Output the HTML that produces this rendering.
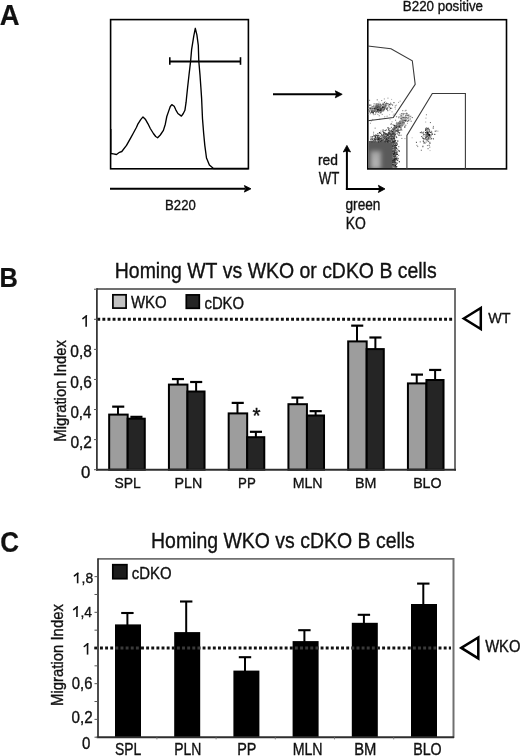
<!DOCTYPE html>
<html><head><meta charset="utf-8"><style>
html,body{margin:0;padding:0;background:#fff;}
body{width:520px;height:756px;overflow:hidden;}
svg{display:block;font-family:"Liberation Sans", sans-serif;font-kerning:none;}
.g{will-change:transform;}
</style></head><body>
<svg class="g" width="520" height="756" viewBox="0 0 520 756">
<rect width="520" height="756" fill="#fff"/>
<text transform="translate(-0.28,24.50) scale(1.000,1.055)" font-size="27.43" font-weight="bold" text-anchor="start" fill="#111" stroke="#111" stroke-width="0.19" >A</text>
<rect x="110.6" y="19.6" width="137.8" height="149.2" fill="none" stroke="#000" stroke-width="1.6"/>
<path d="M110.8,129 L110.8,153.5 L113.4,153.8 L116.5,154.5 L119.5,152.3 L121.8,151.5 L126.5,145.4 L131,137.3 L133.4,133 L136.5,127.3 L138,123.8 L140.7,119.6 L143,116.9 L145.3,119.2 L148,123.8 L150.3,128.5 L153.4,133.5 L155.7,136.5 L157.6,137.7 L160.3,135 L163.4,130.4 L165.3,124.2 L166.8,116.5 L168.4,111.9 L170.3,106.5 L171.8,104.6 L174.2,106.3 L175.8,109.8 L177.9,113.5 L181.4,116.1 L183.3,113.5 L184.9,110.3 L186.1,102.2 L186.6,97 L187.6,87.5 L189,75 L190.6,61.3 L191.6,49.6 L193.8,35.9 L195.3,28.3 L196.9,34.8 L198.3,45.4 L198.8,61.3 L200,75 L200.9,87.7 L201.6,98.3 L202.5,118.8 L203.7,133.8 L204.8,145.4 L206.5,158 L209.4,165 L213.5,168.5 L248,168.5" fill="none" stroke="#000" stroke-width="1.35" stroke-linejoin="round"/>
<line x1="169.80" y1="61.40" x2="240.50" y2="61.40" stroke="#000" stroke-width="2" />
<line x1="169.80" y1="57.20" x2="169.80" y2="64.80" stroke="#000" stroke-width="1.6" />
<line x1="240.50" y1="57.20" x2="240.50" y2="64.80" stroke="#000" stroke-width="1.6" />
<line x1="110.00" y1="188.80" x2="245.00" y2="188.80" stroke="#000" stroke-width="2" />
<path d="M251,188.8 L244.4,185.5 L245.6,188.8 L244.4,192.1 Z" fill="#000" stroke="#000" stroke-width="0.8" />
<text transform="translate(165.12,209.90) scale(1.000,1.150)" font-size="13.14" font-weight="normal" text-anchor="start" fill="#111" stroke="#111" stroke-width="0.30" >B220</text>
<line x1="273.00" y1="94.30" x2="337.00" y2="94.30" stroke="#000" stroke-width="2" />
<path d="M342.2,94.3 L335.3,90.8 L336.5,94.3 L335.3,97.8 Z" fill="#000" stroke="#000" stroke-width="0.8" />
<rect x="367.8" y="19.7" width="138.7" height="149.2" fill="none" stroke="#000" stroke-width="1.6"/>
<text transform="translate(402.80,11.20) scale(1.000,1.130)" font-size="13.37" font-weight="normal" text-anchor="start" fill="#111" stroke="#111" stroke-width="0.31" >B220 positive</text>
<defs>
<filter id="bl" x="-20%" y="-20%" width="140%" height="140%"><feGaussianBlur stdDeviation="0.35"/></filter>
<filter id="bl2" x="-50%" y="-50%" width="200%" height="200%"><feGaussianBlur stdDeviation="2.2"/></filter>
<clipPath id="cp"><rect x="368.6" y="20.5" width="137" height="147.6"/></clipPath>
</defs>
<g clip-path="url(#cp)">
<rect x="368.4" y="141" width="24.4" height="28" fill="#5a5a5a"/>
<g filter="url(#bl2)"><rect x="370.5" y="151" width="10.5" height="18" fill="#a4a4a4"/><rect x="371.5" y="157" width="8" height="11" fill="#b0b0b0"/></g>
<g filter="url(#bl)">
<rect x="378.3" y="110.4" width="1.1" height="1.1" fill="rgb(113,113,113)"/>
<rect x="375.2" y="107.8" width="1.1" height="1.1" fill="rgb(43,43,43)"/>
<rect x="380.1" y="107.3" width="1.1" height="1.1" fill="rgb(94,94,94)"/>
<rect x="369.9" y="112.6" width="1.1" height="1.1" fill="rgb(61,61,61)"/>
<rect x="380.6" y="107.0" width="1.1" height="1.1" fill="rgb(49,49,49)"/>
<rect x="380.0" y="109.0" width="1.1" height="1.1" fill="rgb(56,56,56)"/>
<rect x="377.2" y="109.3" width="1.1" height="1.1" fill="rgb(30,30,30)"/>
<rect x="370.9" y="110.1" width="1.1" height="1.1" fill="rgb(38,38,38)"/>
<rect x="368.6" y="108.2" width="1.1" height="1.1" fill="rgb(46,46,46)"/>
<rect x="371.6" y="106.3" width="1.1" height="1.1" fill="rgb(66,66,66)"/>
<rect x="381.5" y="106.6" width="1.1" height="1.1" fill="rgb(35,35,35)"/>
<rect x="379.6" y="108.9" width="1.1" height="1.1" fill="rgb(52,52,52)"/>
<rect x="380.5" y="109.3" width="1.1" height="1.1" fill="rgb(56,56,56)"/>
<rect x="374.1" y="109.3" width="1.1" height="1.1" fill="rgb(74,74,74)"/>
<rect x="382.0" y="104.5" width="1.1" height="1.1" fill="rgb(38,38,38)"/>
<rect x="373.1" y="105.5" width="1.1" height="1.1" fill="rgb(70,70,70)"/>
<rect x="379.7" y="106.0" width="1.1" height="1.1" fill="rgb(120,120,120)"/>
<rect x="381.5" y="108.3" width="1.1" height="1.1" fill="rgb(81,81,81)"/>
<rect x="381.4" y="104.5" width="1.1" height="1.1" fill="rgb(89,89,89)"/>
<rect x="379.6" y="104.0" width="1.1" height="1.1" fill="rgb(78,78,78)"/>
<rect x="376.8" y="109.6" width="1.1" height="1.1" fill="rgb(47,47,47)"/>
<rect x="377.7" y="108.6" width="1.1" height="1.1" fill="rgb(29,29,29)"/>
<rect x="380.3" y="107.1" width="1.1" height="1.1" fill="rgb(84,84,84)"/>
<rect x="375.7" y="110.4" width="1.1" height="1.1" fill="rgb(89,89,89)"/>
<rect x="377.0" y="109.2" width="1.1" height="1.1" fill="rgb(115,115,115)"/>
<rect x="385.0" y="103.3" width="1.1" height="1.1" fill="rgb(100,100,100)"/>
<rect x="379.7" y="107.3" width="1.1" height="1.1" fill="rgb(24,24,24)"/>
<rect x="382.8" y="104.4" width="1.1" height="1.1" fill="rgb(87,87,87)"/>
<rect x="382.8" y="103.7" width="1.1" height="1.1" fill="rgb(52,52,52)"/>
<rect x="371.8" y="109.6" width="1.1" height="1.1" fill="rgb(125,125,125)"/>
<rect x="386.0" y="102.7" width="1.1" height="1.1" fill="rgb(42,42,42)"/>
<rect x="381.4" y="110.2" width="1.1" height="1.1" fill="rgb(81,81,81)"/>
<rect x="374.4" y="109.2" width="1.1" height="1.1" fill="rgb(64,64,64)"/>
<rect x="376.4" y="106.7" width="1.1" height="1.1" fill="rgb(80,80,80)"/>
<rect x="378.9" y="107.4" width="1.1" height="1.1" fill="rgb(56,56,56)"/>
<rect x="371.6" y="108.2" width="1.1" height="1.1" fill="rgb(113,113,113)"/>
<rect x="376.2" y="105.4" width="1.1" height="1.1" fill="rgb(118,118,118)"/>
<rect x="380.8" y="111.3" width="1.1" height="1.1" fill="rgb(67,67,67)"/>
<rect x="375.0" y="105.7" width="1.1" height="1.1" fill="rgb(117,117,117)"/>
<rect x="388.8" y="103.9" width="1.1" height="1.1" fill="rgb(39,39,39)"/>
<rect x="380.0" y="105.8" width="1.1" height="1.1" fill="rgb(54,54,54)"/>
<rect x="376.1" y="108.6" width="1.1" height="1.1" fill="rgb(108,108,108)"/>
<rect x="378.1" y="109.6" width="1.1" height="1.1" fill="rgb(48,48,48)"/>
<rect x="378.2" y="103.6" width="1.1" height="1.1" fill="rgb(15,15,15)"/>
<rect x="380.9" y="106.0" width="1.1" height="1.1" fill="rgb(88,88,88)"/>
<rect x="380.6" y="109.8" width="1.1" height="1.1" fill="rgb(97,97,97)"/>
<rect x="382.1" y="106.7" width="1.1" height="1.1" fill="rgb(37,37,37)"/>
<rect x="374.1" y="107.7" width="1.1" height="1.1" fill="rgb(19,19,19)"/>
<rect x="375.1" y="108.3" width="1.1" height="1.1" fill="rgb(75,75,75)"/>
<rect x="375.3" y="104.6" width="1.1" height="1.1" fill="rgb(62,62,62)"/>
<rect x="379.0" y="109.7" width="1.1" height="1.1" fill="rgb(88,88,88)"/>
<rect x="374.4" y="107.2" width="1.1" height="1.1" fill="rgb(145,145,145)"/>
<rect x="381.7" y="110.6" width="1.1" height="1.1" fill="rgb(150,150,150)"/>
<rect x="374.1" y="109.4" width="1.1" height="1.1" fill="rgb(83,83,83)"/>
<rect x="380.3" y="108.4" width="1.1" height="1.1" fill="rgb(73,73,73)"/>
<rect x="377.8" y="104.9" width="1.1" height="1.1" fill="rgb(58,58,58)"/>
<rect x="374.3" y="108.8" width="1.1" height="1.1" fill="rgb(46,46,46)"/>
<rect x="380.7" y="108.8" width="1.1" height="1.1" fill="rgb(77,77,77)"/>
<rect x="379.1" y="107.8" width="1.1" height="1.1" fill="rgb(47,47,47)"/>
<rect x="376.7" y="107.1" width="1.1" height="1.1" fill="rgb(80,80,80)"/>
<rect x="377.9" y="109.0" width="1.1" height="1.1" fill="rgb(15,15,15)"/>
<rect x="381.3" y="105.6" width="1.1" height="1.1" fill="rgb(35,35,35)"/>
<rect x="376.5" y="107.0" width="1.1" height="1.1" fill="rgb(76,76,76)"/>
<rect x="374.6" y="106.5" width="1.1" height="1.1" fill="rgb(31,31,31)"/>
<rect x="383.5" y="106.7" width="1.1" height="1.1" fill="rgb(18,18,18)"/>
<rect x="377.0" y="105.0" width="1.1" height="1.1" fill="rgb(136,136,136)"/>
<rect x="370.9" y="110.2" width="1.1" height="1.1" fill="rgb(86,86,86)"/>
<rect x="371.2" y="109.8" width="1.1" height="1.1" fill="rgb(104,104,104)"/>
<rect x="379.8" y="107.9" width="1.1" height="1.1" fill="rgb(102,102,102)"/>
<rect x="378.5" y="108.4" width="1.1" height="1.1" fill="rgb(59,59,59)"/>
<rect x="380.1" y="105.5" width="1.1" height="1.1" fill="rgb(96,96,96)"/>
<rect x="374.9" y="106.4" width="1.1" height="1.1" fill="rgb(79,79,79)"/>
<rect x="385.6" y="108.1" width="1.1" height="1.1" fill="rgb(44,44,44)"/>
<rect x="380.6" y="106.4" width="1.1" height="1.1" fill="rgb(60,60,60)"/>
<rect x="377.1" y="103.5" width="1.1" height="1.1" fill="rgb(72,72,72)"/>
<rect x="372.7" y="107.6" width="1.1" height="1.1" fill="rgb(15,15,15)"/>
<rect x="370.4" y="107.6" width="1.1" height="1.1" fill="rgb(98,98,98)"/>
<rect x="385.1" y="106.3" width="1.1" height="1.1" fill="rgb(108,108,108)"/>
<rect x="375.7" y="104.6" width="1.1" height="1.1" fill="rgb(70,70,70)"/>
<rect x="379.4" y="106.7" width="1.1" height="1.1" fill="rgb(77,77,77)"/>
<rect x="379.8" y="105.7" width="1.1" height="1.1" fill="rgb(15,15,15)"/>
<rect x="376.5" y="107.7" width="1.1" height="1.1" fill="rgb(50,50,50)"/>
<rect x="382.7" y="110.2" width="1.1" height="1.1" fill="rgb(48,48,48)"/>
<rect x="381.1" y="109.0" width="1.1" height="1.1" fill="rgb(93,93,93)"/>
<rect x="382.2" y="106.2" width="1.1" height="1.1" fill="rgb(94,94,94)"/>
<rect x="387.0" y="107.5" width="1.1" height="1.1" fill="rgb(40,40,40)"/>
<rect x="380.8" y="109.7" width="1.1" height="1.1" fill="rgb(79,79,79)"/>
<rect x="375.7" y="111.3" width="1.1" height="1.1" fill="rgb(15,15,15)"/>
<rect x="379.9" y="107.4" width="1.1" height="1.1" fill="rgb(17,17,17)"/>
<rect x="383.2" y="107.4" width="1.1" height="1.1" fill="rgb(18,18,18)"/>
<rect x="380.1" y="106.5" width="1.1" height="1.1" fill="rgb(15,15,15)"/>
<rect x="374.6" y="109.0" width="1.1" height="1.1" fill="rgb(90,90,90)"/>
<rect x="378.4" y="107.8" width="1.1" height="1.1" fill="rgb(83,83,83)"/>
<rect x="377.1" y="110.3" width="1.1" height="1.1" fill="rgb(70,70,70)"/>
<rect x="379.1" y="108.6" width="1.1" height="1.1" fill="rgb(22,22,22)"/>
<rect x="375.0" y="111.4" width="1.1" height="1.1" fill="rgb(78,78,78)"/>
<rect x="376.5" y="108.8" width="1.1" height="1.1" fill="rgb(45,45,45)"/>
<rect x="378.6" y="106.4" width="1.1" height="1.1" fill="rgb(76,76,76)"/>
<rect x="371.0" y="111.9" width="1.1" height="1.1" fill="rgb(44,44,44)"/>
<rect x="370.4" y="109.0" width="1.1" height="1.1" fill="rgb(50,50,50)"/>
<rect x="377.8" y="105.6" width="1.1" height="1.1" fill="rgb(80,80,80)"/>
<rect x="393.4" y="102.1" width="1.1" height="1.1" fill="rgb(78,78,78)"/>
<rect x="376.3" y="108.6" width="1.1" height="1.1" fill="rgb(15,15,15)"/>
<rect x="372.6" y="109.9" width="1.1" height="1.1" fill="rgb(63,63,63)"/>
<rect x="384.7" y="105.0" width="1.1" height="1.1" fill="rgb(71,71,71)"/>
<rect x="390.4" y="103.7" width="1.1" height="1.1" fill="rgb(28,28,28)"/>
<rect x="377.4" y="107.9" width="1.1" height="1.1" fill="rgb(98,98,98)"/>
<rect x="377.9" y="106.4" width="1.1" height="1.1" fill="rgb(73,73,73)"/>
<rect x="390.0" y="107.7" width="1.1" height="1.1" fill="rgb(15,15,15)"/>
<rect x="376.6" y="106.4" width="1.1" height="1.1" fill="rgb(89,89,89)"/>
<rect x="377.6" y="111.7" width="1.1" height="1.1" fill="rgb(102,102,102)"/>
<rect x="381.7" y="107.4" width="1.1" height="1.1" fill="rgb(63,63,63)"/>
<rect x="379.6" y="110.0" width="1.1" height="1.1" fill="rgb(86,86,86)"/>
<rect x="376.5" y="110.6" width="1.1" height="1.1" fill="rgb(72,72,72)"/>
<rect x="376.9" y="106.5" width="1.1" height="1.1" fill="rgb(42,42,42)"/>
<rect x="373.6" y="103.3" width="1.1" height="1.1" fill="rgb(105,105,105)"/>
<rect x="380.1" y="107.0" width="1.1" height="1.1" fill="rgb(106,106,106)"/>
<rect x="379.7" y="108.2" width="1.1" height="1.1" fill="rgb(15,15,15)"/>
<rect x="376.8" y="109.1" width="1.1" height="1.1" fill="rgb(129,129,129)"/>
<rect x="386.4" y="108.8" width="1.1" height="1.1" fill="rgb(18,18,18)"/>
<rect x="367.9" y="111.1" width="1.1" height="1.1" fill="rgb(66,66,66)"/>
<rect x="381.9" y="106.7" width="1.1" height="1.1" fill="rgb(73,73,73)"/>
<rect x="371.0" y="110.2" width="1.1" height="1.1" fill="rgb(47,47,47)"/>
<rect x="379.4" y="108.4" width="1.1" height="1.1" fill="rgb(60,60,60)"/>
<rect x="379.0" y="107.6" width="1.1" height="1.1" fill="rgb(95,95,95)"/>
<rect x="379.6" y="106.4" width="1.1" height="1.1" fill="rgb(41,41,41)"/>
<rect x="385.4" y="106.0" width="1.1" height="1.1" fill="rgb(104,104,104)"/>
<rect x="379.1" y="106.5" width="1.1" height="1.1" fill="rgb(35,35,35)"/>
<rect x="378.2" y="108.3" width="1.1" height="1.1" fill="rgb(89,89,89)"/>
<rect x="371.7" y="108.0" width="1.1" height="1.1" fill="rgb(61,61,61)"/>
<rect x="383.9" y="102.0" width="1.1" height="1.1" fill="rgb(82,82,82)"/>
<rect x="375.3" y="109.2" width="1.1" height="1.1" fill="rgb(45,45,45)"/>
<rect x="379.9" y="110.5" width="1.1" height="1.1" fill="rgb(79,79,79)"/>
<rect x="379.7" y="108.2" width="1.1" height="1.1" fill="rgb(34,34,34)"/>
<rect x="380.0" y="107.0" width="1.1" height="1.1" fill="rgb(32,32,32)"/>
<rect x="377.3" y="107.5" width="1.1" height="1.1" fill="rgb(95,95,95)"/>
<rect x="377.2" y="107.0" width="1.1" height="1.1" fill="rgb(123,123,123)"/>
<rect x="382.5" y="109.3" width="1.1" height="1.1" fill="rgb(89,89,89)"/>
<rect x="376.9" y="107.2" width="1.1" height="1.1" fill="rgb(53,53,53)"/>
<rect x="381.9" y="107.2" width="1.1" height="1.1" fill="rgb(15,15,15)"/>
<rect x="376.9" y="105.3" width="1.1" height="1.1" fill="rgb(71,71,71)"/>
<rect x="371.7" y="106.7" width="1.1" height="1.1" fill="rgb(69,69,69)"/>
<rect x="376.6" y="104.9" width="1.1" height="1.1" fill="rgb(94,94,94)"/>
<rect x="386.7" y="103.1" width="1.1" height="1.1" fill="rgb(137,137,137)"/>
<rect x="374.3" y="107.6" width="1.1" height="1.1" fill="rgb(57,57,57)"/>
<rect x="371.6" y="111.7" width="1.1" height="1.1" fill="rgb(84,84,84)"/>
<rect x="374.1" y="108.1" width="1.1" height="1.1" fill="rgb(15,15,15)"/>
<rect x="376.4" y="110.0" width="1.1" height="1.1" fill="rgb(15,15,15)"/>
<rect x="375.7" y="108.6" width="1.1" height="1.1" fill="rgb(106,106,106)"/>
<rect x="383.5" y="105.8" width="1.1" height="1.1" fill="rgb(35,35,35)"/>
<rect x="379.5" y="106.8" width="1.1" height="1.1" fill="rgb(52,52,52)"/>
<rect x="383.1" y="110.0" width="1.1" height="1.1" fill="rgb(75,75,75)"/>
<rect x="377.0" y="109.1" width="1.1" height="1.1" fill="rgb(15,15,15)"/>
<rect x="377.1" y="105.9" width="1.1" height="1.1" fill="rgb(160,160,160)"/>
<rect x="380.9" y="107.5" width="1.1" height="1.1" fill="rgb(57,57,57)"/>
<rect x="366.6" y="111.6" width="1.1" height="1.1" fill="rgb(130,130,130)"/>
<rect x="374.6" y="109.9" width="1.1" height="1.1" fill="rgb(93,93,93)"/>
<rect x="371.0" y="111.1" width="1.1" height="1.1" fill="rgb(119,119,119)"/>
<rect x="378.6" y="107.6" width="1.1" height="1.1" fill="rgb(96,96,96)"/>
<rect x="370.7" y="109.5" width="1.1" height="1.1" fill="rgb(107,107,107)"/>
<rect x="372.4" y="110.9" width="1.1" height="1.1" fill="rgb(48,48,48)"/>
<rect x="368.2" y="109.7" width="1.1" height="1.1" fill="rgb(26,26,26)"/>
<rect x="378.6" y="105.4" width="1.1" height="1.1" fill="rgb(107,107,107)"/>
<rect x="374.4" y="109.3" width="1.1" height="1.1" fill="rgb(41,41,41)"/>
<rect x="376.6" y="110.4" width="1.1" height="1.1" fill="rgb(73,73,73)"/>
<rect x="375.3" y="106.0" width="1.1" height="1.1" fill="rgb(111,111,111)"/>
<rect x="380.8" y="106.6" width="1.1" height="1.1" fill="rgb(74,74,74)"/>
<rect x="372.6" y="107.0" width="1.1" height="1.1" fill="rgb(31,31,31)"/>
<rect x="379.3" y="108.1" width="1.1" height="1.1" fill="rgb(35,35,35)"/>
<rect x="381.2" y="108.7" width="1.1" height="1.1" fill="rgb(71,71,71)"/>
<rect x="382.2" y="106.4" width="1.1" height="1.1" fill="rgb(60,60,60)"/>
<rect x="379.7" y="107.4" width="1.1" height="1.1" fill="rgb(96,96,96)"/>
<rect x="372.5" y="111.7" width="1.1" height="1.1" fill="rgb(33,33,33)"/>
<rect x="376.3" y="105.5" width="1.1" height="1.1" fill="rgb(89,89,89)"/>
<rect x="383.8" y="108.7" width="1.1" height="1.1" fill="rgb(98,98,98)"/>
<rect x="370.3" y="107.9" width="1.1" height="1.1" fill="rgb(46,46,46)"/>
<rect x="373.8" y="110.9" width="1.1" height="1.1" fill="rgb(72,72,72)"/>
<rect x="377.7" y="108.8" width="1.1" height="1.1" fill="rgb(26,26,26)"/>
<rect x="373.2" y="107.1" width="1.1" height="1.1" fill="rgb(84,84,84)"/>
<rect x="379.4" y="108.6" width="1.1" height="1.1" fill="rgb(108,108,108)"/>
<rect x="371.3" y="108.2" width="1.1" height="1.1" fill="rgb(70,70,70)"/>
<rect x="371.3" y="108.2" width="1.1" height="1.1" fill="rgb(105,105,105)"/>
<rect x="383.0" y="108.8" width="1.1" height="1.1" fill="rgb(66,66,66)"/>
<rect x="377.1" y="110.1" width="1.1" height="1.1" fill="rgb(50,50,50)"/>
<rect x="379.6" y="110.0" width="1.1" height="1.1" fill="rgb(50,50,50)"/>
<rect x="374.8" y="108.5" width="1.1" height="1.1" fill="rgb(88,88,88)"/>
<rect x="379.8" y="107.7" width="1.1" height="1.1" fill="rgb(87,87,87)"/>
<rect x="370.1" y="107.8" width="1.1" height="1.1" fill="rgb(71,71,71)"/>
<rect x="372.9" y="106.3" width="1.1" height="1.1" fill="rgb(16,16,16)"/>
<rect x="373.4" y="108.4" width="1.1" height="1.1" fill="rgb(24,24,24)"/>
<rect x="379.3" y="110.8" width="1.1" height="1.1" fill="rgb(59,59,59)"/>
<rect x="383.4" y="107.2" width="1.1" height="1.1" fill="rgb(20,20,20)"/>
<rect x="376.1" y="106.3" width="1.1" height="1.1" fill="rgb(95,95,95)"/>
<rect x="372.9" y="111.5" width="1.1" height="1.1" fill="rgb(88,88,88)"/>
<rect x="368.8" y="111.3" width="1.1" height="1.1" fill="rgb(127,127,127)"/>
<rect x="374.4" y="110.5" width="1.1" height="1.1" fill="rgb(15,15,15)"/>
<rect x="378.1" y="104.6" width="1.1" height="1.1" fill="rgb(84,84,84)"/>
<rect x="368.5" y="104.7" width="1.1" height="1.1" fill="rgb(80,80,80)"/>
<rect x="387.7" y="104.6" width="1.1" height="1.1" fill="rgb(98,98,98)"/>
<rect x="378.0" y="107.2" width="1.1" height="1.1" fill="rgb(89,89,89)"/>
<rect x="384.5" y="104.0" width="1.1" height="1.1" fill="rgb(87,87,87)"/>
<rect x="378.6" y="104.9" width="1.1" height="1.1" fill="rgb(129,129,129)"/>
<rect x="386.0" y="104.3" width="1.1" height="1.1" fill="rgb(134,134,134)"/>
<rect x="377.8" y="107.5" width="1.1" height="1.1" fill="rgb(125,125,125)"/>
<rect x="378.8" y="108.3" width="1.1" height="1.1" fill="rgb(125,125,125)"/>
<rect x="383.7" y="108.3" width="1.1" height="1.1" fill="rgb(15,15,15)"/>
<rect x="371.0" y="111.5" width="1.1" height="1.1" fill="rgb(27,27,27)"/>
<rect x="377.8" y="105.8" width="1.1" height="1.1" fill="rgb(57,57,57)"/>
<rect x="372.5" y="112.2" width="1.1" height="1.1" fill="rgb(24,24,24)"/>
<rect x="377.0" y="107.7" width="1.1" height="1.1" fill="rgb(113,113,113)"/>
<rect x="371.2" y="109.2" width="1.1" height="1.1" fill="rgb(56,56,56)"/>
<rect x="380.2" y="108.3" width="1.1" height="1.1" fill="rgb(46,46,46)"/>
<rect x="378.5" y="107.0" width="1.1" height="1.1" fill="rgb(83,83,83)"/>
<rect x="376.9" y="106.8" width="1.1" height="1.1" fill="rgb(63,63,63)"/>
<rect x="380.1" y="111.8" width="1.1" height="1.1" fill="rgb(45,45,45)"/>
<rect x="379.6" y="110.3" width="1.1" height="1.1" fill="rgb(15,15,15)"/>
<rect x="369.3" y="107.4" width="1.1" height="1.1" fill="rgb(60,60,60)"/>
<rect x="388.7" y="106.3" width="1.1" height="1.1" fill="rgb(113,113,113)"/>
<rect x="375.6" y="103.5" width="1.1" height="1.1" fill="rgb(15,15,15)"/>
<rect x="382.3" y="107.3" width="1.1" height="1.1" fill="rgb(15,15,15)"/>
<rect x="384.6" y="101.1" width="1.1" height="1.1" fill="rgb(180,180,180)"/>
<rect x="387.4" y="103.0" width="1.1" height="1.1" fill="rgb(90,90,90)"/>
<rect x="383.1" y="102.8" width="1.1" height="1.1" fill="rgb(169,169,169)"/>
<rect x="370.4" y="111.8" width="1.1" height="1.1" fill="rgb(138,138,138)"/>
<rect x="374.4" y="105.3" width="1.1" height="1.1" fill="rgb(144,144,144)"/>
<rect x="364.9" y="109.4" width="1.1" height="1.1" fill="rgb(119,119,119)"/>
<rect x="381.8" y="102.6" width="1.1" height="1.1" fill="rgb(203,203,203)"/>
<rect x="375.1" y="104.4" width="1.1" height="1.1" fill="rgb(190,190,190)"/>
<rect x="389.3" y="104.5" width="1.1" height="1.1" fill="rgb(99,99,99)"/>
<rect x="377.7" y="105.3" width="1.1" height="1.1" fill="rgb(122,122,122)"/>
<rect x="388.9" y="106.5" width="1.1" height="1.1" fill="rgb(140,140,140)"/>
<rect x="380.3" y="106.8" width="1.1" height="1.1" fill="rgb(168,168,168)"/>
<rect x="383.8" y="105.1" width="1.1" height="1.1" fill="rgb(139,139,139)"/>
<rect x="394.8" y="105.3" width="1.1" height="1.1" fill="rgb(127,127,127)"/>
<rect x="392.0" y="104.5" width="1.1" height="1.1" fill="rgb(91,91,91)"/>
<rect x="382.0" y="103.7" width="1.1" height="1.1" fill="rgb(115,115,115)"/>
<rect x="380.2" y="106.6" width="1.1" height="1.1" fill="rgb(104,104,104)"/>
<rect x="373.8" y="106.4" width="1.1" height="1.1" fill="rgb(181,181,181)"/>
<rect x="372.7" y="106.8" width="1.1" height="1.1" fill="rgb(210,210,210)"/>
<rect x="375.2" y="113.0" width="1.1" height="1.1" fill="rgb(187,187,187)"/>
<rect x="376.0" y="103.3" width="1.1" height="1.1" fill="rgb(153,153,153)"/>
<rect x="383.2" y="109.6" width="1.1" height="1.1" fill="rgb(137,137,137)"/>
<rect x="387.2" y="110.1" width="1.1" height="1.1" fill="rgb(92,92,92)"/>
<rect x="387.9" y="106.0" width="1.1" height="1.1" fill="rgb(112,112,112)"/>
<rect x="377.1" y="113.8" width="1.1" height="1.1" fill="rgb(174,174,174)"/>
<rect x="365.8" y="110.4" width="1.1" height="1.1" fill="rgb(129,129,129)"/>
<rect x="376.5" y="106.1" width="1.1" height="1.1" fill="rgb(76,76,76)"/>
<rect x="383.3" y="103.3" width="1.1" height="1.1" fill="rgb(120,120,120)"/>
<rect x="373.4" y="106.1" width="1.1" height="1.1" fill="rgb(164,164,164)"/>
<rect x="380.2" y="104.8" width="1.1" height="1.1" fill="rgb(97,97,97)"/>
<rect x="375.4" y="111.2" width="1.1" height="1.1" fill="rgb(140,140,140)"/>
<rect x="379.4" y="106.1" width="1.1" height="1.1" fill="rgb(124,124,124)"/>
<rect x="378.3" y="101.4" width="1.1" height="1.1" fill="rgb(199,199,199)"/>
<rect x="372.2" y="106.9" width="1.1" height="1.1" fill="rgb(188,188,188)"/>
<rect x="379.6" y="107.3" width="1.1" height="1.1" fill="rgb(111,111,111)"/>
<rect x="367.4" y="110.4" width="1.1" height="1.1" fill="rgb(182,182,182)"/>
<rect x="372.7" y="113.1" width="1.1" height="1.1" fill="rgb(89,89,89)"/>
<rect x="373.3" y="110.2" width="1.1" height="1.1" fill="rgb(135,135,135)"/>
<rect x="382.2" y="104.2" width="1.1" height="1.1" fill="rgb(93,93,93)"/>
<rect x="364.4" y="106.4" width="1.1" height="1.1" fill="rgb(91,91,91)"/>
<rect x="368.4" y="110.5" width="1.1" height="1.1" fill="rgb(108,108,108)"/>
<rect x="366.0" y="118.2" width="1.1" height="1.1" fill="rgb(101,101,101)"/>
<rect x="370.2" y="113.2" width="1.1" height="1.1" fill="rgb(181,181,181)"/>
<rect x="369.1" y="104.6" width="1.1" height="1.1" fill="rgb(94,94,94)"/>
<rect x="385.5" y="104.9" width="1.1" height="1.1" fill="rgb(102,102,102)"/>
<rect x="378.6" y="111.3" width="1.1" height="1.1" fill="rgb(79,79,79)"/>
<rect x="374.5" y="103.7" width="1.1" height="1.1" fill="rgb(210,210,210)"/>
<rect x="391.1" y="107.8" width="1.1" height="1.1" fill="rgb(129,129,129)"/>
<rect x="381.1" y="100.0" width="1.1" height="1.1" fill="rgb(146,146,146)"/>
<rect x="368.0" y="105.3" width="1.1" height="1.1" fill="rgb(106,106,106)"/>
<rect x="376.0" y="109.8" width="1.1" height="1.1" fill="rgb(163,163,163)"/>
<rect x="379.2" y="104.2" width="1.1" height="1.1" fill="rgb(162,162,162)"/>
<rect x="378.0" y="111.4" width="1.1" height="1.1" fill="rgb(98,98,98)"/>
<rect x="358.8" y="110.0" width="1.1" height="1.1" fill="rgb(210,210,210)"/>
<rect x="381.1" y="106.2" width="1.1" height="1.1" fill="rgb(170,170,170)"/>
<rect x="381.8" y="108.2" width="1.1" height="1.1" fill="rgb(114,114,114)"/>
<rect x="378.7" y="108.0" width="1.1" height="1.1" fill="rgb(109,109,109)"/>
<rect x="370.4" y="109.6" width="1.1" height="1.1" fill="rgb(173,173,173)"/>
<rect x="382.8" y="108.1" width="1.1" height="1.1" fill="rgb(155,155,155)"/>
<rect x="395.9" y="104.6" width="1.1" height="1.1" fill="rgb(176,176,176)"/>
<rect x="398.0" y="101.9" width="1.1" height="1.1" fill="rgb(169,169,169)"/>
<rect x="391.5" y="111.3" width="1.1" height="1.1" fill="rgb(170,170,170)"/>
<rect x="383.4" y="106.0" width="1.1" height="1.1" fill="rgb(117,117,117)"/>
<rect x="390.0" y="102.7" width="1.1" height="1.1" fill="rgb(99,99,99)"/>
<rect x="376.7" y="99.3" width="1.1" height="1.1" fill="rgb(124,124,124)"/>
<rect x="379.1" y="102.5" width="1.1" height="1.1" fill="rgb(197,197,197)"/>
<rect x="366.9" y="111.3" width="1.1" height="1.1" fill="rgb(179,179,179)"/>
<rect x="394.5" y="106.9" width="1.1" height="1.1" fill="rgb(168,168,168)"/>
<rect x="380.8" y="106.1" width="1.1" height="1.1" fill="rgb(200,200,200)"/>
<rect x="374.7" y="110.4" width="1.1" height="1.1" fill="rgb(157,157,157)"/>
<rect x="382.0" y="104.8" width="1.1" height="1.1" fill="rgb(210,210,210)"/>
<rect x="374.4" y="109.2" width="1.1" height="1.1" fill="rgb(170,170,170)"/>
<rect x="386.2" y="107.0" width="1.1" height="1.1" fill="rgb(175,175,175)"/>
<rect x="387.4" y="97.6" width="1.1" height="1.1" fill="rgb(160,160,160)"/>
<rect x="369.1" y="110.6" width="1.1" height="1.1" fill="rgb(119,119,119)"/>
<rect x="371.2" y="108.6" width="1.1" height="1.1" fill="rgb(209,209,209)"/>
<rect x="385.8" y="106.4" width="1.1" height="1.1" fill="rgb(209,209,209)"/>
<rect x="369.0" y="99.8" width="1.1" height="1.1" fill="rgb(145,145,145)"/>
<rect x="379.0" y="112.6" width="1.1" height="1.1" fill="rgb(210,210,210)"/>
<rect x="370.8" y="120.6" width="1.1" height="1.1" fill="rgb(210,210,210)"/>
<rect x="388.3" y="106.1" width="1.1" height="1.1" fill="rgb(210,210,210)"/>
<rect x="380.3" y="104.3" width="1.1" height="1.1" fill="rgb(165,165,165)"/>
<rect x="368.1" y="111.9" width="1.1" height="1.1" fill="rgb(156,156,156)"/>
<rect x="383.6" y="107.3" width="1.1" height="1.1" fill="rgb(123,123,123)"/>
<rect x="391.0" y="98.9" width="1.1" height="1.1" fill="rgb(191,191,191)"/>
<rect x="366.0" y="112.1" width="1.1" height="1.1" fill="rgb(131,131,131)"/>
<rect x="379.8" y="103.6" width="1.1" height="1.1" fill="rgb(84,84,84)"/>
<rect x="370.0" y="109.6" width="1.1" height="1.1" fill="rgb(182,182,182)"/>
<rect x="364.2" y="100.9" width="1.1" height="1.1" fill="rgb(130,130,130)"/>
<rect x="377.5" y="104.3" width="1.1" height="1.1" fill="rgb(132,132,132)"/>
<rect x="389.1" y="108.6" width="1.1" height="1.1" fill="rgb(186,186,186)"/>
<rect x="371.6" y="109.2" width="1.1" height="1.1" fill="rgb(153,153,153)"/>
<rect x="368.1" y="113.9" width="1.1" height="1.1" fill="rgb(163,163,163)"/>
<rect x="377.4" y="113.9" width="1.1" height="1.1" fill="rgb(187,187,187)"/>
<rect x="389.4" y="109.6" width="1.1" height="1.1" fill="rgb(185,185,185)"/>
<rect x="368.1" y="107.9" width="1.1" height="1.1" fill="rgb(195,195,195)"/>
<rect x="373.1" y="108.6" width="1.1" height="1.1" fill="rgb(174,174,174)"/>
<rect x="394.9" y="108.6" width="1.1" height="1.1" fill="rgb(191,191,191)"/>
<rect x="379.5" y="111.0" width="1.1" height="1.1" fill="rgb(178,178,178)"/>
<rect x="380.2" y="112.8" width="1.1" height="1.1" fill="rgb(177,177,177)"/>
<rect x="374.7" y="113.9" width="1.1" height="1.1" fill="rgb(151,151,151)"/>
<rect x="383.8" y="98.4" width="1.1" height="1.1" fill="rgb(159,159,159)"/>
<rect x="370.3" y="104.6" width="1.1" height="1.1" fill="rgb(93,93,93)"/>
<rect x="399.6" y="100.6" width="1.1" height="1.1" fill="rgb(168,168,168)"/>
<rect x="390.1" y="103.3" width="1.1" height="1.1" fill="rgb(178,178,178)"/>
<rect x="367.9" y="110.7" width="1.1" height="1.1" fill="rgb(145,145,145)"/>
<rect x="384.9" y="106.1" width="1.1" height="1.1" fill="rgb(111,111,111)"/>
<rect x="361.9" y="106.7" width="1.1" height="1.1" fill="rgb(186,186,186)"/>
<rect x="384.5" y="107.2" width="1.1" height="1.1" fill="rgb(89,89,89)"/>
<rect x="354.7" y="110.4" width="1.1" height="1.1" fill="rgb(148,148,148)"/>
<rect x="425.3" y="136.0" width="1.1" height="1.1" fill="rgb(68,68,68)"/>
<rect x="425.0" y="129.7" width="1.1" height="1.1" fill="rgb(80,80,80)"/>
<rect x="427.2" y="134.2" width="1.1" height="1.1" fill="rgb(165,165,165)"/>
<rect x="426.3" y="135.0" width="1.1" height="1.1" fill="rgb(35,35,35)"/>
<rect x="425.7" y="136.9" width="1.1" height="1.1" fill="rgb(97,97,97)"/>
<rect x="426.3" y="136.4" width="1.1" height="1.1" fill="rgb(77,77,77)"/>
<rect x="425.4" y="117.6" width="1.1" height="1.1" fill="rgb(167,167,167)"/>
<rect x="429.0" y="134.6" width="1.1" height="1.1" fill="rgb(15,15,15)"/>
<rect x="422.8" y="140.6" width="1.1" height="1.1" fill="rgb(15,15,15)"/>
<rect x="425.5" y="138.6" width="1.1" height="1.1" fill="rgb(80,80,80)"/>
<rect x="428.9" y="134.2" width="1.1" height="1.1" fill="rgb(170,170,170)"/>
<rect x="425.8" y="127.4" width="1.1" height="1.1" fill="rgb(85,85,85)"/>
<rect x="430.4" y="134.8" width="1.1" height="1.1" fill="rgb(116,116,116)"/>
<rect x="426.8" y="128.4" width="1.1" height="1.1" fill="rgb(130,130,130)"/>
<rect x="429.4" y="142.7" width="1.1" height="1.1" fill="rgb(57,57,57)"/>
<rect x="425.3" y="128.3" width="1.1" height="1.1" fill="rgb(66,66,66)"/>
<rect x="427.9" y="137.2" width="1.1" height="1.1" fill="rgb(17,17,17)"/>
<rect x="427.4" y="134.7" width="1.1" height="1.1" fill="rgb(78,78,78)"/>
<rect x="427.1" y="133.5" width="1.1" height="1.1" fill="rgb(98,98,98)"/>
<rect x="427.1" y="135.7" width="1.1" height="1.1" fill="rgb(47,47,47)"/>
<rect x="428.0" y="134.1" width="1.1" height="1.1" fill="rgb(15,15,15)"/>
<rect x="428.4" y="133.4" width="1.1" height="1.1" fill="rgb(112,112,112)"/>
<rect x="426.7" y="134.0" width="1.1" height="1.1" fill="rgb(83,83,83)"/>
<rect x="427.4" y="132.3" width="1.1" height="1.1" fill="rgb(15,15,15)"/>
<rect x="432.7" y="127.5" width="1.1" height="1.1" fill="rgb(61,61,61)"/>
<rect x="428.2" y="136.6" width="1.1" height="1.1" fill="rgb(97,97,97)"/>
<rect x="427.7" y="141.0" width="1.1" height="1.1" fill="rgb(86,86,86)"/>
<rect x="434.7" y="130.7" width="1.1" height="1.1" fill="rgb(84,84,84)"/>
<rect x="426.6" y="131.7" width="1.1" height="1.1" fill="rgb(86,86,86)"/>
<rect x="431.1" y="131.6" width="1.1" height="1.1" fill="rgb(46,46,46)"/>
<rect x="428.2" y="137.5" width="1.1" height="1.1" fill="rgb(153,153,153)"/>
<rect x="429.2" y="136.1" width="1.1" height="1.1" fill="rgb(61,61,61)"/>
<rect x="427.7" y="133.7" width="1.1" height="1.1" fill="rgb(20,20,20)"/>
<rect x="427.2" y="133.6" width="1.1" height="1.1" fill="rgb(65,65,65)"/>
<rect x="424.5" y="142.6" width="1.1" height="1.1" fill="rgb(102,102,102)"/>
<rect x="429.7" y="131.9" width="1.1" height="1.1" fill="rgb(34,34,34)"/>
<rect x="426.1" y="135.6" width="1.1" height="1.1" fill="rgb(61,61,61)"/>
<rect x="425.7" y="139.2" width="1.1" height="1.1" fill="rgb(86,86,86)"/>
<rect x="425.0" y="132.0" width="1.1" height="1.1" fill="rgb(48,48,48)"/>
<rect x="428.4" y="128.8" width="1.1" height="1.1" fill="rgb(67,67,67)"/>
<rect x="428.6" y="134.9" width="1.1" height="1.1" fill="rgb(38,38,38)"/>
<rect x="425.4" y="134.9" width="1.1" height="1.1" fill="rgb(94,94,94)"/>
<rect x="429.1" y="134.1" width="1.1" height="1.1" fill="rgb(22,22,22)"/>
<rect x="430.1" y="136.6" width="1.1" height="1.1" fill="rgb(91,91,91)"/>
<rect x="428.6" y="129.5" width="1.1" height="1.1" fill="rgb(62,62,62)"/>
<rect x="426.7" y="139.7" width="1.1" height="1.1" fill="rgb(77,77,77)"/>
<rect x="419.8" y="132.0" width="1.1" height="1.1" fill="rgb(89,89,89)"/>
<rect x="429.4" y="138.5" width="1.1" height="1.1" fill="rgb(174,174,174)"/>
<rect x="429.2" y="141.7" width="1.1" height="1.1" fill="rgb(112,112,112)"/>
<rect x="423.0" y="138.1" width="1.1" height="1.1" fill="rgb(98,98,98)"/>
<rect x="425.2" y="137.2" width="1.1" height="1.1" fill="rgb(91,91,91)"/>
<rect x="426.0" y="133.7" width="1.1" height="1.1" fill="rgb(64,64,64)"/>
<rect x="427.9" y="132.5" width="1.1" height="1.1" fill="rgb(96,96,96)"/>
<rect x="422.7" y="132.3" width="1.1" height="1.1" fill="rgb(15,15,15)"/>
<rect x="425.4" y="136.8" width="1.1" height="1.1" fill="rgb(75,75,75)"/>
<rect x="426.7" y="134.8" width="1.1" height="1.1" fill="rgb(137,137,137)"/>
<rect x="423.6" y="138.4" width="1.1" height="1.1" fill="rgb(15,15,15)"/>
<rect x="425.8" y="135.1" width="1.1" height="1.1" fill="rgb(40,40,40)"/>
<rect x="426.9" y="138.2" width="1.1" height="1.1" fill="rgb(27,27,27)"/>
<rect x="427.1" y="132.6" width="1.1" height="1.1" fill="rgb(15,15,15)"/>
<rect x="427.3" y="130.5" width="1.1" height="1.1" fill="rgb(128,128,128)"/>
<rect x="423.5" y="142.5" width="1.1" height="1.1" fill="rgb(53,53,53)"/>
<rect x="431.1" y="138.0" width="1.1" height="1.1" fill="rgb(93,93,93)"/>
<rect x="428.1" y="139.3" width="1.1" height="1.1" fill="rgb(131,131,131)"/>
<rect x="431.4" y="133.5" width="1.1" height="1.1" fill="rgb(24,24,24)"/>
<rect x="421.0" y="131.5" width="1.1" height="1.1" fill="rgb(105,105,105)"/>
<rect x="427.8" y="135.2" width="1.1" height="1.1" fill="rgb(60,60,60)"/>
<rect x="425.7" y="132.8" width="1.1" height="1.1" fill="rgb(90,90,90)"/>
<rect x="422.2" y="137.4" width="1.1" height="1.1" fill="rgb(16,16,16)"/>
<rect x="427.2" y="131.3" width="1.1" height="1.1" fill="rgb(60,60,60)"/>
<rect x="425.5" y="128.4" width="1.1" height="1.1" fill="rgb(65,65,65)"/>
<rect x="422.3" y="146.1" width="1.1" height="1.1" fill="rgb(58,58,58)"/>
<rect x="425.9" y="131.5" width="1.1" height="1.1" fill="rgb(31,31,31)"/>
<rect x="421.4" y="132.2" width="1.1" height="1.1" fill="rgb(87,87,87)"/>
<rect x="423.4" y="133.9" width="1.1" height="1.1" fill="rgb(26,26,26)"/>
<rect x="426.6" y="136.2" width="1.1" height="1.1" fill="rgb(94,94,94)"/>
<rect x="428.6" y="131.2" width="1.1" height="1.1" fill="rgb(109,109,109)"/>
<rect x="425.6" y="136.0" width="1.1" height="1.1" fill="rgb(102,102,102)"/>
<rect x="427.4" y="128.0" width="1.1" height="1.1" fill="rgb(99,99,99)"/>
<rect x="425.1" y="129.6" width="1.1" height="1.1" fill="rgb(30,30,30)"/>
<rect x="429.1" y="134.0" width="1.1" height="1.1" fill="rgb(15,15,15)"/>
<rect x="426.9" y="145.0" width="1.1" height="1.1" fill="rgb(146,146,146)"/>
<rect x="425.6" y="134.6" width="1.1" height="1.1" fill="rgb(94,94,94)"/>
<rect x="429.1" y="135.0" width="1.1" height="1.1" fill="rgb(30,30,30)"/>
<rect x="428.2" y="137.8" width="1.1" height="1.1" fill="rgb(21,21,21)"/>
<rect x="425.9" y="135.6" width="1.1" height="1.1" fill="rgb(74,74,74)"/>
<rect x="427.5" y="138.6" width="1.1" height="1.1" fill="rgb(96,96,96)"/>
<rect x="427.9" y="127.7" width="1.1" height="1.1" fill="rgb(99,99,99)"/>
<rect x="428.6" y="144.7" width="1.1" height="1.1" fill="rgb(73,73,73)"/>
<rect x="425.6" y="141.5" width="1.1" height="1.1" fill="rgb(132,132,132)"/>
<rect x="427.2" y="138.1" width="1.1" height="1.1" fill="rgb(44,44,44)"/>
<rect x="429.1" y="130.6" width="1.1" height="1.1" fill="rgb(68,68,68)"/>
<rect x="427.1" y="132.1" width="1.1" height="1.1" fill="rgb(15,15,15)"/>
<rect x="424.7" y="135.7" width="1.1" height="1.1" fill="rgb(72,72,72)"/>
<rect x="425.7" y="136.4" width="1.1" height="1.1" fill="rgb(101,101,101)"/>
<rect x="430.9" y="130.8" width="1.1" height="1.1" fill="rgb(145,145,145)"/>
<rect x="425.8" y="129.2" width="1.1" height="1.1" fill="rgb(84,84,84)"/>
<rect x="426.8" y="129.5" width="1.1" height="1.1" fill="rgb(210,210,210)"/>
<rect x="425.8" y="134.9" width="1.1" height="1.1" fill="rgb(128,128,128)"/>
<rect x="435.7" y="130.4" width="1.1" height="1.1" fill="rgb(137,137,137)"/>
<rect x="422.7" y="135.2" width="1.1" height="1.1" fill="rgb(142,142,142)"/>
<rect x="432.9" y="125.9" width="1.1" height="1.1" fill="rgb(143,143,143)"/>
<rect x="433.9" y="133.8" width="1.1" height="1.1" fill="rgb(137,137,137)"/>
<rect x="425.9" y="114.2" width="1.1" height="1.1" fill="rgb(140,140,140)"/>
<rect x="431.9" y="133.8" width="1.1" height="1.1" fill="rgb(70,70,70)"/>
<rect x="427.0" y="137.7" width="1.1" height="1.1" fill="rgb(184,184,184)"/>
<rect x="430.4" y="135.3" width="1.1" height="1.1" fill="rgb(160,160,160)"/>
<rect x="416.3" y="144.8" width="1.1" height="1.1" fill="rgb(151,151,151)"/>
<rect x="429.2" y="146.6" width="1.1" height="1.1" fill="rgb(132,132,132)"/>
<rect x="426.6" y="129.4" width="1.1" height="1.1" fill="rgb(61,61,61)"/>
<rect x="425.1" y="138.0" width="1.1" height="1.1" fill="rgb(100,100,100)"/>
<rect x="429.0" y="138.2" width="1.1" height="1.1" fill="rgb(162,162,162)"/>
<rect x="425.1" y="121.5" width="1.1" height="1.1" fill="rgb(175,175,175)"/>
<rect x="428.8" y="136.4" width="1.1" height="1.1" fill="rgb(127,127,127)"/>
<rect x="424.9" y="135.5" width="1.1" height="1.1" fill="rgb(123,123,123)"/>
<rect x="415.9" y="141.8" width="1.1" height="1.1" fill="rgb(84,84,84)"/>
<rect x="424.9" y="134.0" width="1.1" height="1.1" fill="rgb(154,154,154)"/>
<rect x="417.0" y="145.7" width="1.1" height="1.1" fill="rgb(170,170,170)"/>
<rect x="427.5" y="148.1" width="1.1" height="1.1" fill="rgb(112,112,112)"/>
<rect x="411.6" y="137.2" width="1.1" height="1.1" fill="rgb(197,197,197)"/>
<rect x="431.9" y="133.3" width="1.1" height="1.1" fill="rgb(140,140,140)"/>
<rect x="429.9" y="122.0" width="1.1" height="1.1" fill="rgb(118,118,118)"/>
<rect x="420.8" y="149.7" width="1.1" height="1.1" fill="rgb(118,118,118)"/>
<rect x="432.9" y="138.3" width="1.1" height="1.1" fill="rgb(77,77,77)"/>
<rect x="437.3" y="130.6" width="1.1" height="1.1" fill="rgb(169,169,169)"/>
<rect x="434.3" y="133.9" width="1.1" height="1.1" fill="rgb(95,95,95)"/>
<rect x="430.5" y="138.4" width="1.1" height="1.1" fill="rgb(95,95,95)"/>
<rect x="421.8" y="132.9" width="1.1" height="1.1" fill="rgb(183,183,183)"/>
<rect x="423.8" y="142.3" width="1.1" height="1.1" fill="rgb(210,210,210)"/>
<rect x="429.5" y="150.0" width="1.1" height="1.1" fill="rgb(194,194,194)"/>
<rect x="417.1" y="146.0" width="1.1" height="1.1" fill="rgb(158,158,158)"/>
<rect x="427.0" y="127.8" width="1.1" height="1.1" fill="rgb(81,81,81)"/>
<rect x="421.1" y="136.0" width="1.1" height="1.1" fill="rgb(97,97,97)"/>
<rect x="423.3" y="131.2" width="1.1" height="1.1" fill="rgb(171,171,171)"/>
<rect x="424.9" y="135.5" width="1.1" height="1.1" fill="rgb(198,198,198)"/>
<rect x="423.7" y="141.8" width="1.1" height="1.1" fill="rgb(102,102,102)"/>
<rect x="427.3" y="138.3" width="1.1" height="1.1" fill="rgb(152,152,152)"/>
<rect x="425.5" y="128.0" width="1.1" height="1.1" fill="rgb(133,133,133)"/>
<rect x="422.4" y="145.3" width="1.1" height="1.1" fill="rgb(181,181,181)"/>
<rect x="419.7" y="141.3" width="1.1" height="1.1" fill="rgb(125,125,125)"/>
<rect x="382.2" y="139.3" width="1.1" height="1.1" fill="rgb(15,15,15)"/>
<rect x="380.4" y="139.5" width="1.1" height="1.1" fill="rgb(24,24,24)"/>
<rect x="385.9" y="138.8" width="1.1" height="1.1" fill="rgb(26,26,26)"/>
<rect x="382.0" y="138.7" width="1.1" height="1.1" fill="rgb(146,146,146)"/>
<rect x="393.1" y="133.5" width="1.1" height="1.1" fill="rgb(132,132,132)"/>
<rect x="393.1" y="131.9" width="1.1" height="1.1" fill="rgb(118,118,118)"/>
<rect x="382.1" y="130.7" width="1.1" height="1.1" fill="rgb(144,144,144)"/>
<rect x="374.3" y="135.2" width="1.1" height="1.1" fill="rgb(32,32,32)"/>
<rect x="391.0" y="140.0" width="1.1" height="1.1" fill="rgb(158,158,158)"/>
<rect x="392.4" y="124.1" width="1.1" height="1.1" fill="rgb(141,141,141)"/>
<rect x="385.9" y="137.6" width="1.1" height="1.1" fill="rgb(58,58,58)"/>
<rect x="370.5" y="139.4" width="1.1" height="1.1" fill="rgb(89,89,89)"/>
<rect x="390.2" y="133.8" width="1.1" height="1.1" fill="rgb(98,98,98)"/>
<rect x="388.8" y="137.7" width="1.1" height="1.1" fill="rgb(56,56,56)"/>
<rect x="388.3" y="140.2" width="1.1" height="1.1" fill="rgb(97,97,97)"/>
<rect x="385.7" y="137.1" width="1.1" height="1.1" fill="rgb(27,27,27)"/>
<rect x="386.9" y="139.6" width="1.1" height="1.1" fill="rgb(141,141,141)"/>
<rect x="392.9" y="135.3" width="1.1" height="1.1" fill="rgb(104,104,104)"/>
<rect x="389.4" y="136.0" width="1.1" height="1.1" fill="rgb(95,95,95)"/>
<rect x="386.2" y="135.6" width="1.1" height="1.1" fill="rgb(47,47,47)"/>
<rect x="376.7" y="135.3" width="1.1" height="1.1" fill="rgb(115,115,115)"/>
<rect x="393.8" y="135.0" width="1.1" height="1.1" fill="rgb(160,160,160)"/>
<rect x="389.9" y="135.3" width="1.1" height="1.1" fill="rgb(38,38,38)"/>
<rect x="379.8" y="138.6" width="1.1" height="1.1" fill="rgb(96,96,96)"/>
<rect x="384.3" y="139.9" width="1.1" height="1.1" fill="rgb(106,106,106)"/>
<rect x="391.4" y="131.9" width="1.1" height="1.1" fill="rgb(78,78,78)"/>
<rect x="389.2" y="131.6" width="1.1" height="1.1" fill="rgb(21,21,21)"/>
<rect x="383.4" y="136.0" width="1.1" height="1.1" fill="rgb(90,90,90)"/>
<rect x="392.0" y="139.1" width="1.1" height="1.1" fill="rgb(58,58,58)"/>
<rect x="391.8" y="140.7" width="1.1" height="1.1" fill="rgb(55,55,55)"/>
<rect x="378.7" y="140.2" width="1.1" height="1.1" fill="rgb(95,95,95)"/>
<rect x="387.7" y="141.3" width="1.1" height="1.1" fill="rgb(86,86,86)"/>
<rect x="388.6" y="141.3" width="1.1" height="1.1" fill="rgb(116,116,116)"/>
<rect x="381.3" y="139.5" width="1.1" height="1.1" fill="rgb(59,59,59)"/>
<rect x="388.2" y="141.4" width="1.1" height="1.1" fill="rgb(52,52,52)"/>
<rect x="387.6" y="135.2" width="1.1" height="1.1" fill="rgb(73,73,73)"/>
<rect x="383.6" y="140.2" width="1.1" height="1.1" fill="rgb(118,118,118)"/>
<rect x="376.6" y="140.9" width="1.1" height="1.1" fill="rgb(198,198,198)"/>
<rect x="391.8" y="135.9" width="1.1" height="1.1" fill="rgb(90,90,90)"/>
<rect x="383.1" y="136.0" width="1.1" height="1.1" fill="rgb(41,41,41)"/>
<rect x="385.1" y="137.5" width="1.1" height="1.1" fill="rgb(61,61,61)"/>
<rect x="387.4" y="139.6" width="1.1" height="1.1" fill="rgb(71,71,71)"/>
<rect x="388.5" y="133.9" width="1.1" height="1.1" fill="rgb(75,75,75)"/>
<rect x="376.5" y="137.6" width="1.1" height="1.1" fill="rgb(49,49,49)"/>
<rect x="380.5" y="140.5" width="1.1" height="1.1" fill="rgb(59,59,59)"/>
<rect x="377.8" y="137.3" width="1.1" height="1.1" fill="rgb(45,45,45)"/>
<rect x="377.2" y="139.2" width="1.1" height="1.1" fill="rgb(95,95,95)"/>
<rect x="384.9" y="139.8" width="1.1" height="1.1" fill="rgb(87,87,87)"/>
<rect x="371.9" y="136.1" width="1.1" height="1.1" fill="rgb(60,60,60)"/>
<rect x="382.9" y="139.7" width="1.1" height="1.1" fill="rgb(68,68,68)"/>
<rect x="376.8" y="138.9" width="1.1" height="1.1" fill="rgb(90,90,90)"/>
<rect x="388.8" y="141.4" width="1.1" height="1.1" fill="rgb(79,79,79)"/>
<rect x="391.8" y="140.1" width="1.1" height="1.1" fill="rgb(15,15,15)"/>
<rect x="377.6" y="135.2" width="1.1" height="1.1" fill="rgb(62,62,62)"/>
<rect x="391.7" y="139.8" width="1.1" height="1.1" fill="rgb(56,56,56)"/>
<rect x="384.7" y="140.0" width="1.1" height="1.1" fill="rgb(59,59,59)"/>
<rect x="387.2" y="134.0" width="1.1" height="1.1" fill="rgb(107,107,107)"/>
<rect x="386.9" y="135.2" width="1.1" height="1.1" fill="rgb(105,105,105)"/>
<rect x="390.0" y="139.2" width="1.1" height="1.1" fill="rgb(27,27,27)"/>
<rect x="388.0" y="132.4" width="1.1" height="1.1" fill="rgb(132,132,132)"/>
<rect x="375.0" y="134.6" width="1.1" height="1.1" fill="rgb(66,66,66)"/>
<rect x="383.5" y="136.4" width="1.1" height="1.1" fill="rgb(15,15,15)"/>
<rect x="379.6" y="136.2" width="1.1" height="1.1" fill="rgb(31,31,31)"/>
<rect x="375.7" y="134.6" width="1.1" height="1.1" fill="rgb(83,83,83)"/>
<rect x="393.0" y="139.2" width="1.1" height="1.1" fill="rgb(107,107,107)"/>
<rect x="389.6" y="136.2" width="1.1" height="1.1" fill="rgb(143,143,143)"/>
<rect x="385.6" y="139.8" width="1.1" height="1.1" fill="rgb(97,97,97)"/>
<rect x="394.1" y="139.1" width="1.1" height="1.1" fill="rgb(89,89,89)"/>
<rect x="383.9" y="138.8" width="1.1" height="1.1" fill="rgb(127,127,127)"/>
<rect x="389.3" y="140.5" width="1.1" height="1.1" fill="rgb(105,105,105)"/>
<rect x="390.1" y="141.0" width="1.1" height="1.1" fill="rgb(148,148,148)"/>
<rect x="390.5" y="136.1" width="1.1" height="1.1" fill="rgb(142,142,142)"/>
<rect x="393.1" y="137.4" width="1.1" height="1.1" fill="rgb(94,94,94)"/>
<rect x="394.1" y="137.8" width="1.1" height="1.1" fill="rgb(111,111,111)"/>
<rect x="387.7" y="140.6" width="1.1" height="1.1" fill="rgb(73,73,73)"/>
<rect x="375.1" y="137.0" width="1.1" height="1.1" fill="rgb(60,60,60)"/>
<rect x="391.7" y="134.3" width="1.1" height="1.1" fill="rgb(15,15,15)"/>
<rect x="391.8" y="141.2" width="1.1" height="1.1" fill="rgb(70,70,70)"/>
<rect x="381.4" y="136.9" width="1.1" height="1.1" fill="rgb(208,208,208)"/>
<rect x="382.9" y="139.2" width="1.1" height="1.1" fill="rgb(15,15,15)"/>
<rect x="374.9" y="136.0" width="1.1" height="1.1" fill="rgb(78,78,78)"/>
<rect x="382.1" y="139.0" width="1.1" height="1.1" fill="rgb(158,158,158)"/>
<rect x="386.7" y="134.8" width="1.1" height="1.1" fill="rgb(111,111,111)"/>
<rect x="382.8" y="139.0" width="1.1" height="1.1" fill="rgb(83,83,83)"/>
<rect x="371.4" y="141.3" width="1.1" height="1.1" fill="rgb(36,36,36)"/>
<rect x="394.2" y="136.1" width="1.1" height="1.1" fill="rgb(71,71,71)"/>
<rect x="389.1" y="138.7" width="1.1" height="1.1" fill="rgb(15,15,15)"/>
<rect x="394.1" y="133.6" width="1.1" height="1.1" fill="rgb(41,41,41)"/>
<rect x="391.1" y="133.0" width="1.1" height="1.1" fill="rgb(53,53,53)"/>
<rect x="392.9" y="139.8" width="1.1" height="1.1" fill="rgb(73,73,73)"/>
<rect x="393.1" y="137.8" width="1.1" height="1.1" fill="rgb(76,76,76)"/>
<rect x="382.2" y="140.5" width="1.1" height="1.1" fill="rgb(155,155,155)"/>
<rect x="392.7" y="141.0" width="1.1" height="1.1" fill="rgb(47,47,47)"/>
<rect x="394.0" y="135.1" width="1.1" height="1.1" fill="rgb(15,15,15)"/>
<rect x="390.3" y="138.5" width="1.1" height="1.1" fill="rgb(25,25,25)"/>
<rect x="392.0" y="141.0" width="1.1" height="1.1" fill="rgb(15,15,15)"/>
<rect x="373.2" y="135.4" width="1.1" height="1.1" fill="rgb(38,38,38)"/>
<rect x="379.7" y="139.6" width="1.1" height="1.1" fill="rgb(135,135,135)"/>
<rect x="391.7" y="139.2" width="1.1" height="1.1" fill="rgb(85,85,85)"/>
<rect x="371.6" y="137.8" width="1.1" height="1.1" fill="rgb(173,173,173)"/>
<rect x="386.9" y="135.2" width="1.1" height="1.1" fill="rgb(61,61,61)"/>
<rect x="378.5" y="137.3" width="1.1" height="1.1" fill="rgb(42,42,42)"/>
<rect x="385.7" y="136.7" width="1.1" height="1.1" fill="rgb(116,116,116)"/>
<rect x="393.3" y="141.5" width="1.1" height="1.1" fill="rgb(73,73,73)"/>
<rect x="393.0" y="141.2" width="1.1" height="1.1" fill="rgb(125,125,125)"/>
<rect x="386.1" y="135.2" width="1.1" height="1.1" fill="rgb(90,90,90)"/>
<rect x="371.2" y="138.2" width="1.1" height="1.1" fill="rgb(89,89,89)"/>
<rect x="387.5" y="140.7" width="1.1" height="1.1" fill="rgb(132,132,132)"/>
<rect x="392.2" y="140.5" width="1.1" height="1.1" fill="rgb(96,96,96)"/>
<rect x="384.9" y="139.3" width="1.1" height="1.1" fill="rgb(92,92,92)"/>
<rect x="381.8" y="136.3" width="1.1" height="1.1" fill="rgb(17,17,17)"/>
<rect x="391.9" y="139.8" width="1.1" height="1.1" fill="rgb(29,29,29)"/>
<rect x="387.2" y="139.3" width="1.1" height="1.1" fill="rgb(113,113,113)"/>
<rect x="388.7" y="140.1" width="1.1" height="1.1" fill="rgb(56,56,56)"/>
<rect x="391.5" y="134.8" width="1.1" height="1.1" fill="rgb(124,124,124)"/>
<rect x="377.1" y="140.4" width="1.1" height="1.1" fill="rgb(70,70,70)"/>
<rect x="379.6" y="138.2" width="1.1" height="1.1" fill="rgb(15,15,15)"/>
<rect x="383.5" y="135.7" width="1.1" height="1.1" fill="rgb(86,86,86)"/>
<rect x="379.4" y="138.0" width="1.1" height="1.1" fill="rgb(42,42,42)"/>
<rect x="393.4" y="134.0" width="1.1" height="1.1" fill="rgb(129,129,129)"/>
<rect x="392.3" y="135.5" width="1.1" height="1.1" fill="rgb(89,89,89)"/>
<rect x="380.2" y="132.7" width="1.1" height="1.1" fill="rgb(15,15,15)"/>
<rect x="377.9" y="139.2" width="1.1" height="1.1" fill="rgb(15,15,15)"/>
<rect x="386.2" y="141.0" width="1.1" height="1.1" fill="rgb(108,108,108)"/>
<rect x="379.0" y="140.1" width="1.1" height="1.1" fill="rgb(48,48,48)"/>
<rect x="387.5" y="141.2" width="1.1" height="1.1" fill="rgb(58,58,58)"/>
<rect x="383.2" y="134.2" width="1.1" height="1.1" fill="rgb(125,125,125)"/>
<rect x="391.6" y="137.2" width="1.1" height="1.1" fill="rgb(59,59,59)"/>
<rect x="383.5" y="138.4" width="1.1" height="1.1" fill="rgb(37,37,37)"/>
<rect x="390.9" y="141.2" width="1.1" height="1.1" fill="rgb(66,66,66)"/>
<rect x="376.4" y="136.9" width="1.1" height="1.1" fill="rgb(102,102,102)"/>
<rect x="384.9" y="133.4" width="1.1" height="1.1" fill="rgb(49,49,49)"/>
<rect x="387.1" y="137.5" width="1.1" height="1.1" fill="rgb(59,59,59)"/>
<rect x="384.9" y="141.2" width="1.1" height="1.1" fill="rgb(42,42,42)"/>
<rect x="377.0" y="136.5" width="1.1" height="1.1" fill="rgb(15,15,15)"/>
<rect x="391.3" y="140.1" width="1.1" height="1.1" fill="rgb(138,138,138)"/>
<rect x="389.6" y="139.2" width="1.1" height="1.1" fill="rgb(24,24,24)"/>
<rect x="385.9" y="140.3" width="1.1" height="1.1" fill="rgb(64,64,64)"/>
<rect x="379.6" y="135.4" width="1.1" height="1.1" fill="rgb(105,105,105)"/>
<rect x="386.9" y="133.8" width="1.1" height="1.1" fill="rgb(126,126,126)"/>
<rect x="391.8" y="134.8" width="1.1" height="1.1" fill="rgb(64,64,64)"/>
<rect x="373.8" y="141.1" width="1.1" height="1.1" fill="rgb(20,20,20)"/>
<rect x="384.6" y="139.6" width="1.1" height="1.1" fill="rgb(107,107,107)"/>
<rect x="390.8" y="130.6" width="1.1" height="1.1" fill="rgb(78,78,78)"/>
<rect x="392.2" y="130.7" width="1.1" height="1.1" fill="rgb(43,43,43)"/>
<rect x="381.3" y="135.3" width="1.1" height="1.1" fill="rgb(52,52,52)"/>
<rect x="377.4" y="135.9" width="1.1" height="1.1" fill="rgb(90,90,90)"/>
<rect x="389.7" y="134.4" width="1.1" height="1.1" fill="rgb(78,78,78)"/>
<rect x="385.7" y="140.4" width="1.1" height="1.1" fill="rgb(97,97,97)"/>
<rect x="388.4" y="140.0" width="1.1" height="1.1" fill="rgb(122,122,122)"/>
<rect x="378.9" y="137.1" width="1.1" height="1.1" fill="rgb(101,101,101)"/>
<rect x="380.0" y="138.2" width="1.1" height="1.1" fill="rgb(49,49,49)"/>
<rect x="382.9" y="135.3" width="1.1" height="1.1" fill="rgb(88,88,88)"/>
<rect x="390.1" y="134.6" width="1.1" height="1.1" fill="rgb(76,76,76)"/>
<rect x="387.5" y="139.8" width="1.1" height="1.1" fill="rgb(126,126,126)"/>
<rect x="384.6" y="138.7" width="1.1" height="1.1" fill="rgb(77,77,77)"/>
<rect x="388.9" y="139.6" width="1.1" height="1.1" fill="rgb(99,99,99)"/>
<rect x="389.5" y="137.9" width="1.1" height="1.1" fill="rgb(95,95,95)"/>
<rect x="389.7" y="141.2" width="1.1" height="1.1" fill="rgb(197,197,197)"/>
<rect x="388.4" y="141.0" width="1.1" height="1.1" fill="rgb(112,112,112)"/>
<rect x="380.9" y="139.9" width="1.1" height="1.1" fill="rgb(15,15,15)"/>
<rect x="389.0" y="141.3" width="1.1" height="1.1" fill="rgb(175,175,175)"/>
<rect x="387.8" y="133.5" width="1.1" height="1.1" fill="rgb(72,72,72)"/>
<rect x="385.9" y="140.0" width="1.1" height="1.1" fill="rgb(87,87,87)"/>
<rect x="389.8" y="141.0" width="1.1" height="1.1" fill="rgb(127,127,127)"/>
<rect x="384.3" y="139.6" width="1.1" height="1.1" fill="rgb(70,70,70)"/>
<rect x="393.1" y="140.9" width="1.1" height="1.1" fill="rgb(141,141,141)"/>
<rect x="394.0" y="131.8" width="1.1" height="1.1" fill="rgb(79,79,79)"/>
<rect x="381.1" y="136.8" width="1.1" height="1.1" fill="rgb(140,140,140)"/>
<rect x="377.1" y="138.6" width="1.1" height="1.1" fill="rgb(86,86,86)"/>
<rect x="386.2" y="138.5" width="1.1" height="1.1" fill="rgb(108,108,108)"/>
<rect x="377.3" y="133.3" width="1.1" height="1.1" fill="rgb(22,22,22)"/>
<rect x="391.1" y="134.9" width="1.1" height="1.1" fill="rgb(197,197,197)"/>
<rect x="383.6" y="134.5" width="1.1" height="1.1" fill="rgb(15,15,15)"/>
<rect x="389.0" y="135.7" width="1.1" height="1.1" fill="rgb(15,15,15)"/>
<rect x="387.2" y="139.4" width="1.1" height="1.1" fill="rgb(83,83,83)"/>
<rect x="391.2" y="138.4" width="1.1" height="1.1" fill="rgb(129,129,129)"/>
<rect x="392.7" y="136.9" width="1.1" height="1.1" fill="rgb(172,172,172)"/>
<rect x="388.3" y="136.3" width="1.1" height="1.1" fill="rgb(105,105,105)"/>
<rect x="393.8" y="140.1" width="1.1" height="1.1" fill="rgb(132,132,132)"/>
<rect x="386.9" y="136.5" width="1.1" height="1.1" fill="rgb(54,54,54)"/>
<rect x="382.1" y="139.4" width="1.1" height="1.1" fill="rgb(101,101,101)"/>
<rect x="385.5" y="135.8" width="1.1" height="1.1" fill="rgb(56,56,56)"/>
<rect x="390.0" y="132.7" width="1.1" height="1.1" fill="rgb(128,128,128)"/>
<rect x="384.0" y="138.5" width="1.1" height="1.1" fill="rgb(107,107,107)"/>
<rect x="391.0" y="136.3" width="1.1" height="1.1" fill="rgb(64,64,64)"/>
<rect x="383.1" y="140.7" width="1.1" height="1.1" fill="rgb(65,65,65)"/>
<rect x="391.3" y="141.2" width="1.1" height="1.1" fill="rgb(15,15,15)"/>
<rect x="388.4" y="140.1" width="1.1" height="1.1" fill="rgb(15,15,15)"/>
<rect x="383.2" y="141.1" width="1.1" height="1.1" fill="rgb(94,94,94)"/>
<rect x="389.7" y="137.3" width="1.1" height="1.1" fill="rgb(15,15,15)"/>
<rect x="388.8" y="139.5" width="1.1" height="1.1" fill="rgb(130,130,130)"/>
<rect x="373.2" y="141.0" width="1.1" height="1.1" fill="rgb(103,103,103)"/>
<rect x="371.4" y="141.1" width="1.1" height="1.1" fill="rgb(97,97,97)"/>
<rect x="383.0" y="133.5" width="1.1" height="1.1" fill="rgb(44,44,44)"/>
<rect x="381.6" y="140.6" width="1.1" height="1.1" fill="rgb(53,53,53)"/>
<rect x="384.8" y="136.0" width="1.1" height="1.1" fill="rgb(151,151,151)"/>
<rect x="382.9" y="140.0" width="1.1" height="1.1" fill="rgb(124,124,124)"/>
<rect x="389.7" y="140.6" width="1.1" height="1.1" fill="rgb(108,108,108)"/>
<rect x="374.6" y="137.6" width="1.1" height="1.1" fill="rgb(17,17,17)"/>
<rect x="385.9" y="139.5" width="1.1" height="1.1" fill="rgb(15,15,15)"/>
<rect x="379.4" y="141.0" width="1.1" height="1.1" fill="rgb(137,137,137)"/>
<rect x="382.7" y="135.8" width="1.1" height="1.1" fill="rgb(138,138,138)"/>
<rect x="387.4" y="138.6" width="1.1" height="1.1" fill="rgb(128,128,128)"/>
<rect x="382.5" y="139.7" width="1.1" height="1.1" fill="rgb(66,66,66)"/>
<rect x="386.0" y="137.8" width="1.1" height="1.1" fill="rgb(47,47,47)"/>
<rect x="392.6" y="137.5" width="1.1" height="1.1" fill="rgb(79,79,79)"/>
<rect x="389.4" y="135.2" width="1.1" height="1.1" fill="rgb(87,87,87)"/>
<rect x="384.5" y="133.2" width="1.1" height="1.1" fill="rgb(15,15,15)"/>
<rect x="387.8" y="127.6" width="1.1" height="1.1" fill="rgb(82,82,82)"/>
<rect x="388.0" y="137.8" width="1.1" height="1.1" fill="rgb(94,94,94)"/>
<rect x="390.3" y="131.6" width="1.1" height="1.1" fill="rgb(95,95,95)"/>
<rect x="377.7" y="137.1" width="1.1" height="1.1" fill="rgb(100,100,100)"/>
<rect x="373.6" y="140.0" width="1.1" height="1.1" fill="rgb(90,90,90)"/>
<rect x="387.2" y="137.5" width="1.1" height="1.1" fill="rgb(137,137,137)"/>
<rect x="391.7" y="135.4" width="1.1" height="1.1" fill="rgb(95,95,95)"/>
<rect x="378.2" y="141.1" width="1.1" height="1.1" fill="rgb(62,62,62)"/>
<rect x="377.8" y="139.3" width="1.1" height="1.1" fill="rgb(15,15,15)"/>
<rect x="389.6" y="136.1" width="1.1" height="1.1" fill="rgb(70,70,70)"/>
<rect x="394.1" y="141.2" width="1.1" height="1.1" fill="rgb(204,204,204)"/>
<rect x="380.8" y="138.3" width="1.1" height="1.1" fill="rgb(84,84,84)"/>
<rect x="387.5" y="140.3" width="1.1" height="1.1" fill="rgb(16,16,16)"/>
<rect x="386.0" y="137.0" width="1.1" height="1.1" fill="rgb(71,71,71)"/>
<rect x="391.8" y="137.8" width="1.1" height="1.1" fill="rgb(60,60,60)"/>
<rect x="393.1" y="140.4" width="1.1" height="1.1" fill="rgb(93,93,93)"/>
<rect x="380.3" y="141.0" width="1.1" height="1.1" fill="rgb(31,31,31)"/>
<rect x="383.9" y="133.1" width="1.1" height="1.1" fill="rgb(100,100,100)"/>
<rect x="383.1" y="137.0" width="1.1" height="1.1" fill="rgb(78,78,78)"/>
<rect x="387.1" y="134.3" width="1.1" height="1.1" fill="rgb(104,104,104)"/>
<rect x="390.2" y="140.4" width="1.1" height="1.1" fill="rgb(15,15,15)"/>
<rect x="387.9" y="137.5" width="1.1" height="1.1" fill="rgb(97,97,97)"/>
<rect x="387.5" y="138.7" width="1.1" height="1.1" fill="rgb(135,135,135)"/>
<rect x="378.4" y="140.4" width="1.1" height="1.1" fill="rgb(86,86,86)"/>
<rect x="393.5" y="132.6" width="1.1" height="1.1" fill="rgb(15,15,15)"/>
<rect x="392.7" y="141.0" width="1.1" height="1.1" fill="rgb(15,15,15)"/>
<rect x="393.0" y="138.5" width="1.1" height="1.1" fill="rgb(82,82,82)"/>
<rect x="382.6" y="139.4" width="1.1" height="1.1" fill="rgb(130,130,130)"/>
<rect x="384.5" y="133.2" width="1.1" height="1.1" fill="rgb(118,118,118)"/>
<rect x="374.6" y="136.3" width="1.1" height="1.1" fill="rgb(50,50,50)"/>
<rect x="382.9" y="139.1" width="1.1" height="1.1" fill="rgb(103,103,103)"/>
<rect x="386.1" y="135.7" width="1.1" height="1.1" fill="rgb(88,88,88)"/>
<rect x="392.7" y="140.0" width="1.1" height="1.1" fill="rgb(63,63,63)"/>
<rect x="392.8" y="136.2" width="1.1" height="1.1" fill="rgb(59,59,59)"/>
<rect x="385.9" y="140.6" width="1.1" height="1.1" fill="rgb(57,57,57)"/>
<rect x="392.7" y="129.1" width="1.1" height="1.1" fill="rgb(97,97,97)"/>
<rect x="384.8" y="140.4" width="1.1" height="1.1" fill="rgb(97,97,97)"/>
<rect x="385.8" y="129.4" width="1.1" height="1.1" fill="rgb(89,89,89)"/>
<rect x="391.6" y="131.8" width="1.1" height="1.1" fill="rgb(111,111,111)"/>
<rect x="382.3" y="140.3" width="1.1" height="1.1" fill="rgb(95,95,95)"/>
<rect x="391.6" y="140.3" width="1.1" height="1.1" fill="rgb(44,44,44)"/>
<rect x="392.1" y="139.2" width="1.1" height="1.1" fill="rgb(78,78,78)"/>
<rect x="386.1" y="140.0" width="1.1" height="1.1" fill="rgb(78,78,78)"/>
<rect x="375.3" y="140.5" width="1.1" height="1.1" fill="rgb(96,96,96)"/>
<rect x="381.9" y="139.2" width="1.1" height="1.1" fill="rgb(74,74,74)"/>
<rect x="391.1" y="138.6" width="1.1" height="1.1" fill="rgb(112,112,112)"/>
<rect x="379.5" y="139.9" width="1.1" height="1.1" fill="rgb(109,109,109)"/>
<rect x="378.1" y="141.0" width="1.1" height="1.1" fill="rgb(132,132,132)"/>
<rect x="383.5" y="139.2" width="1.1" height="1.1" fill="rgb(225,225,225)"/>
<rect x="385.4" y="133.5" width="1.1" height="1.1" fill="rgb(15,15,15)"/>
<rect x="385.1" y="133.1" width="1.1" height="1.1" fill="rgb(151,151,151)"/>
<rect x="393.7" y="134.4" width="1.1" height="1.1" fill="rgb(18,18,18)"/>
<rect x="393.4" y="139.6" width="1.1" height="1.1" fill="rgb(83,83,83)"/>
<rect x="389.0" y="139.0" width="1.1" height="1.1" fill="rgb(106,106,106)"/>
<rect x="381.7" y="134.5" width="1.1" height="1.1" fill="rgb(147,147,147)"/>
<rect x="394.2" y="140.2" width="1.1" height="1.1" fill="rgb(137,137,137)"/>
<rect x="389.7" y="140.7" width="1.1" height="1.1" fill="rgb(58,58,58)"/>
<rect x="389.4" y="141.4" width="1.1" height="1.1" fill="rgb(69,69,69)"/>
<rect x="387.5" y="136.9" width="1.1" height="1.1" fill="rgb(55,55,55)"/>
<rect x="388.5" y="140.9" width="1.1" height="1.1" fill="rgb(49,49,49)"/>
<rect x="391.3" y="136.3" width="1.1" height="1.1" fill="rgb(40,40,40)"/>
<rect x="393.2" y="133.0" width="1.1" height="1.1" fill="rgb(36,36,36)"/>
<rect x="391.6" y="140.4" width="1.1" height="1.1" fill="rgb(27,27,27)"/>
<rect x="394.0" y="131.9" width="1.1" height="1.1" fill="rgb(98,98,98)"/>
<rect x="391.7" y="138.0" width="1.1" height="1.1" fill="rgb(99,99,99)"/>
<rect x="375.4" y="138.8" width="1.1" height="1.1" fill="rgb(133,133,133)"/>
<rect x="385.6" y="136.6" width="1.1" height="1.1" fill="rgb(65,65,65)"/>
<rect x="378.0" y="139.8" width="1.1" height="1.1" fill="rgb(15,15,15)"/>
<rect x="393.8" y="136.7" width="1.1" height="1.1" fill="rgb(77,77,77)"/>
<rect x="391.3" y="138.7" width="1.1" height="1.1" fill="rgb(101,101,101)"/>
<rect x="390.8" y="133.5" width="1.1" height="1.1" fill="rgb(94,94,94)"/>
<rect x="393.6" y="124.9" width="1.1" height="1.1" fill="rgb(69,69,69)"/>
<rect x="372.2" y="138.6" width="1.1" height="1.1" fill="rgb(43,43,43)"/>
<rect x="385.5" y="136.1" width="1.1" height="1.1" fill="rgb(167,167,167)"/>
<rect x="380.8" y="138.5" width="1.1" height="1.1" fill="rgb(93,93,93)"/>
<rect x="390.2" y="137.3" width="1.1" height="1.1" fill="rgb(97,97,97)"/>
<rect x="391.6" y="141.1" width="1.1" height="1.1" fill="rgb(70,70,70)"/>
<rect x="376.0" y="136.2" width="1.1" height="1.1" fill="rgb(221,221,221)"/>
<rect x="388.2" y="135.7" width="1.1" height="1.1" fill="rgb(89,89,89)"/>
<rect x="378.9" y="132.1" width="1.1" height="1.1" fill="rgb(65,65,65)"/>
<rect x="390.6" y="139.4" width="1.1" height="1.1" fill="rgb(76,76,76)"/>
<rect x="385.9" y="141.5" width="1.1" height="1.1" fill="rgb(108,108,108)"/>
<rect x="389.7" y="141.2" width="1.1" height="1.1" fill="rgb(143,143,143)"/>
<rect x="375.9" y="139.1" width="1.1" height="1.1" fill="rgb(143,143,143)"/>
<rect x="387.9" y="135.7" width="1.1" height="1.1" fill="rgb(15,15,15)"/>
<rect x="384.5" y="135.5" width="1.1" height="1.1" fill="rgb(19,19,19)"/>
<rect x="389.3" y="134.9" width="1.1" height="1.1" fill="rgb(15,15,15)"/>
<rect x="386.4" y="138.8" width="1.1" height="1.1" fill="rgb(76,76,76)"/>
<rect x="382.7" y="130.8" width="1.1" height="1.1" fill="rgb(108,108,108)"/>
<rect x="391.3" y="138.8" width="1.1" height="1.1" fill="rgb(186,186,186)"/>
<rect x="390.4" y="139.0" width="1.1" height="1.1" fill="rgb(97,97,97)"/>
<rect x="385.9" y="135.7" width="1.1" height="1.1" fill="rgb(54,54,54)"/>
<rect x="381.0" y="138.5" width="1.1" height="1.1" fill="rgb(61,61,61)"/>
<rect x="393.6" y="137.2" width="1.1" height="1.1" fill="rgb(112,112,112)"/>
<rect x="393.7" y="134.0" width="1.1" height="1.1" fill="rgb(52,52,52)"/>
<rect x="384.1" y="140.5" width="1.1" height="1.1" fill="rgb(55,55,55)"/>
<rect x="381.6" y="139.4" width="1.1" height="1.1" fill="rgb(86,86,86)"/>
<rect x="386.0" y="139.9" width="1.1" height="1.1" fill="rgb(71,71,71)"/>
<rect x="387.9" y="134.5" width="1.1" height="1.1" fill="rgb(128,128,128)"/>
<rect x="389.5" y="132.3" width="1.1" height="1.1" fill="rgb(140,140,140)"/>
<rect x="378.6" y="139.9" width="1.1" height="1.1" fill="rgb(72,72,72)"/>
<rect x="388.0" y="135.7" width="1.1" height="1.1" fill="rgb(130,130,130)"/>
<rect x="376.4" y="135.1" width="1.1" height="1.1" fill="rgb(15,15,15)"/>
<rect x="392.8" y="136.0" width="1.1" height="1.1" fill="rgb(101,101,101)"/>
<rect x="389.4" y="133.8" width="1.1" height="1.1" fill="rgb(32,32,32)"/>
<rect x="388.5" y="136.8" width="1.1" height="1.1" fill="rgb(70,70,70)"/>
<rect x="387.6" y="134.5" width="1.1" height="1.1" fill="rgb(35,35,35)"/>
<rect x="387.6" y="133.4" width="1.1" height="1.1" fill="rgb(120,120,120)"/>
<rect x="384.6" y="130.0" width="1.1" height="1.1" fill="rgb(34,34,34)"/>
<rect x="389.0" y="138.3" width="1.1" height="1.1" fill="rgb(170,170,170)"/>
<rect x="388.9" y="140.0" width="1.1" height="1.1" fill="rgb(29,29,29)"/>
<rect x="390.4" y="137.8" width="1.1" height="1.1" fill="rgb(51,51,51)"/>
<rect x="378.9" y="139.9" width="1.1" height="1.1" fill="rgb(90,90,90)"/>
<rect x="391.8" y="133.8" width="1.1" height="1.1" fill="rgb(89,89,89)"/>
<rect x="378.2" y="134.9" width="1.1" height="1.1" fill="rgb(69,69,69)"/>
<rect x="385.1" y="137.4" width="1.1" height="1.1" fill="rgb(99,99,99)"/>
<rect x="374.2" y="139.1" width="1.1" height="1.1" fill="rgb(59,59,59)"/>
<rect x="386.9" y="138.5" width="1.1" height="1.1" fill="rgb(27,27,27)"/>
<rect x="384.0" y="139.9" width="1.1" height="1.1" fill="rgb(166,166,166)"/>
<rect x="386.4" y="139.4" width="1.1" height="1.1" fill="rgb(51,51,51)"/>
<rect x="381.1" y="138.7" width="1.1" height="1.1" fill="rgb(105,105,105)"/>
<rect x="382.0" y="140.9" width="1.1" height="1.1" fill="rgb(116,116,116)"/>
<rect x="389.8" y="136.9" width="1.1" height="1.1" fill="rgb(136,136,136)"/>
<rect x="389.4" y="136.3" width="1.1" height="1.1" fill="rgb(125,125,125)"/>
<rect x="377.8" y="138.3" width="1.1" height="1.1" fill="rgb(54,54,54)"/>
<rect x="389.7" y="132.6" width="1.1" height="1.1" fill="rgb(96,96,96)"/>
<rect x="384.1" y="140.7" width="1.1" height="1.1" fill="rgb(15,15,15)"/>
<rect x="370.2" y="139.1" width="1.1" height="1.1" fill="rgb(101,101,101)"/>
<rect x="390.3" y="135.6" width="1.1" height="1.1" fill="rgb(151,151,151)"/>
<rect x="388.2" y="135.1" width="1.1" height="1.1" fill="rgb(43,43,43)"/>
<rect x="373.8" y="141.4" width="1.1" height="1.1" fill="rgb(88,88,88)"/>
<rect x="388.4" y="138.4" width="1.1" height="1.1" fill="rgb(68,68,68)"/>
<rect x="383.1" y="137.0" width="1.1" height="1.1" fill="rgb(64,64,64)"/>
<rect x="379.7" y="139.2" width="1.1" height="1.1" fill="rgb(65,65,65)"/>
<rect x="384.0" y="137.6" width="1.1" height="1.1" fill="rgb(56,56,56)"/>
<rect x="380.0" y="139.1" width="1.1" height="1.1" fill="rgb(107,107,107)"/>
<rect x="384.4" y="132.9" width="1.1" height="1.1" fill="rgb(91,91,91)"/>
<rect x="388.9" y="139.4" width="1.1" height="1.1" fill="rgb(39,39,39)"/>
<rect x="371.9" y="139.2" width="1.1" height="1.1" fill="rgb(15,15,15)"/>
<rect x="386.2" y="137.8" width="1.1" height="1.1" fill="rgb(59,59,59)"/>
<rect x="381.6" y="134.8" width="1.1" height="1.1" fill="rgb(53,53,53)"/>
<rect x="391.3" y="141.0" width="1.1" height="1.1" fill="rgb(56,56,56)"/>
<rect x="394.0" y="141.1" width="1.1" height="1.1" fill="rgb(63,63,63)"/>
<rect x="388.7" y="132.2" width="1.1" height="1.1" fill="rgb(104,104,104)"/>
<rect x="373.8" y="138.6" width="1.1" height="1.1" fill="rgb(48,48,48)"/>
<rect x="381.4" y="141.0" width="1.1" height="1.1" fill="rgb(93,93,93)"/>
<rect x="372.0" y="136.7" width="1.1" height="1.1" fill="rgb(156,156,156)"/>
<rect x="391.1" y="137.3" width="1.1" height="1.1" fill="rgb(62,62,62)"/>
<rect x="390.6" y="138.2" width="1.1" height="1.1" fill="rgb(81,81,81)"/>
<rect x="390.4" y="131.4" width="1.1" height="1.1" fill="rgb(201,201,201)"/>
<rect x="388.0" y="141.3" width="1.1" height="1.1" fill="rgb(124,124,124)"/>
<rect x="393.6" y="138.2" width="1.1" height="1.1" fill="rgb(15,15,15)"/>
<rect x="383.9" y="132.2" width="1.1" height="1.1" fill="rgb(84,84,84)"/>
<rect x="378.4" y="140.2" width="1.1" height="1.1" fill="rgb(137,137,137)"/>
<rect x="390.2" y="141.4" width="1.1" height="1.1" fill="rgb(69,69,69)"/>
<rect x="381.7" y="139.4" width="1.1" height="1.1" fill="rgb(139,139,139)"/>
<rect x="382.2" y="140.0" width="1.1" height="1.1" fill="rgb(69,69,69)"/>
<rect x="375.1" y="140.0" width="1.1" height="1.1" fill="rgb(94,94,94)"/>
<rect x="388.8" y="134.3" width="1.1" height="1.1" fill="rgb(132,132,132)"/>
<rect x="383.4" y="140.7" width="1.1" height="1.1" fill="rgb(112,112,112)"/>
<rect x="387.9" y="137.2" width="1.1" height="1.1" fill="rgb(95,95,95)"/>
<rect x="393.3" y="141.1" width="1.1" height="1.1" fill="rgb(93,93,93)"/>
<rect x="393.8" y="132.8" width="1.1" height="1.1" fill="rgb(38,38,38)"/>
<rect x="381.0" y="134.0" width="1.1" height="1.1" fill="rgb(93,93,93)"/>
<rect x="385.8" y="140.6" width="1.1" height="1.1" fill="rgb(56,56,56)"/>
<rect x="379.5" y="137.8" width="1.1" height="1.1" fill="rgb(63,63,63)"/>
<rect x="386.3" y="140.5" width="1.1" height="1.1" fill="rgb(84,84,84)"/>
<rect x="387.5" y="141.1" width="1.1" height="1.1" fill="rgb(81,81,81)"/>
<rect x="392.1" y="128.1" width="1.1" height="1.1" fill="rgb(28,28,28)"/>
<rect x="375.1" y="138.8" width="1.1" height="1.1" fill="rgb(39,39,39)"/>
<rect x="392.1" y="138.9" width="1.1" height="1.1" fill="rgb(15,15,15)"/>
<rect x="384.1" y="141.3" width="1.1" height="1.1" fill="rgb(76,76,76)"/>
<rect x="392.8" y="140.0" width="1.1" height="1.1" fill="rgb(184,184,184)"/>
<rect x="381.6" y="137.7" width="1.1" height="1.1" fill="rgb(56,56,56)"/>
<rect x="385.2" y="140.0" width="1.1" height="1.1" fill="rgb(73,73,73)"/>
<rect x="375.9" y="138.4" width="1.1" height="1.1" fill="rgb(101,101,101)"/>
<rect x="388.6" y="139.0" width="1.1" height="1.1" fill="rgb(50,50,50)"/>
<rect x="389.3" y="127.9" width="1.1" height="1.1" fill="rgb(123,123,123)"/>
<rect x="377.4" y="140.3" width="1.1" height="1.1" fill="rgb(133,133,133)"/>
<rect x="378.5" y="137.4" width="1.1" height="1.1" fill="rgb(60,60,60)"/>
<rect x="373.0" y="140.1" width="1.1" height="1.1" fill="rgb(94,94,94)"/>
<rect x="390.1" y="138.0" width="1.1" height="1.1" fill="rgb(53,53,53)"/>
<rect x="391.2" y="139.7" width="1.1" height="1.1" fill="rgb(205,205,205)"/>
<rect x="382.9" y="132.1" width="1.1" height="1.1" fill="rgb(51,51,51)"/>
<rect x="392.5" y="138.4" width="1.1" height="1.1" fill="rgb(81,81,81)"/>
<rect x="383.1" y="138.4" width="1.1" height="1.1" fill="rgb(15,15,15)"/>
<rect x="371.4" y="139.1" width="1.1" height="1.1" fill="rgb(130,130,130)"/>
<rect x="374.0" y="138.4" width="1.1" height="1.1" fill="rgb(64,64,64)"/>
<rect x="377.6" y="138.3" width="1.1" height="1.1" fill="rgb(15,15,15)"/>
<rect x="384.3" y="132.3" width="1.1" height="1.1" fill="rgb(77,77,77)"/>
<rect x="378.1" y="141.3" width="1.1" height="1.1" fill="rgb(27,27,27)"/>
<rect x="385.9" y="140.0" width="1.1" height="1.1" fill="rgb(89,89,89)"/>
<rect x="392.2" y="136.8" width="1.1" height="1.1" fill="rgb(15,15,15)"/>
<rect x="391.4" y="138.5" width="1.1" height="1.1" fill="rgb(89,89,89)"/>
<rect x="393.2" y="136.7" width="1.1" height="1.1" fill="rgb(124,124,124)"/>
<rect x="386.7" y="140.3" width="1.1" height="1.1" fill="rgb(69,69,69)"/>
<rect x="387.2" y="141.3" width="1.1" height="1.1" fill="rgb(15,15,15)"/>
<rect x="374.2" y="140.8" width="1.1" height="1.1" fill="rgb(116,116,116)"/>
<rect x="386.1" y="137.1" width="1.1" height="1.1" fill="rgb(170,170,170)"/>
<rect x="378.9" y="139.2" width="1.1" height="1.1" fill="rgb(58,58,58)"/>
<rect x="391.4" y="133.1" width="1.1" height="1.1" fill="rgb(73,73,73)"/>
<rect x="381.3" y="136.0" width="1.1" height="1.1" fill="rgb(161,161,161)"/>
<rect x="374.8" y="141.1" width="1.1" height="1.1" fill="rgb(83,83,83)"/>
<rect x="394.0" y="126.5" width="1.1" height="1.1" fill="rgb(81,81,81)"/>
<rect x="372.6" y="138.2" width="1.1" height="1.1" fill="rgb(135,135,135)"/>
<rect x="386.9" y="136.7" width="1.1" height="1.1" fill="rgb(52,52,52)"/>
<rect x="383.8" y="135.4" width="1.1" height="1.1" fill="rgb(94,94,94)"/>
<rect x="379.2" y="132.3" width="1.1" height="1.1" fill="rgb(15,15,15)"/>
<rect x="390.9" y="123.3" width="1.1" height="1.1" fill="rgb(109,109,109)"/>
<rect x="393.4" y="124.7" width="1.1" height="1.1" fill="rgb(119,119,119)"/>
<rect x="370.6" y="136.4" width="1.1" height="1.1" fill="rgb(98,98,98)"/>
<rect x="393.8" y="132.8" width="1.1" height="1.1" fill="rgb(115,115,115)"/>
<rect x="390.8" y="129.8" width="1.1" height="1.1" fill="rgb(108,108,108)"/>
<rect x="391.0" y="135.2" width="1.1" height="1.1" fill="rgb(73,73,73)"/>
<rect x="391.9" y="132.6" width="1.1" height="1.1" fill="rgb(176,176,176)"/>
<rect x="399.5" y="121.5" width="1.1" height="1.1" fill="rgb(172,172,172)"/>
<rect x="400.6" y="134.7" width="1.1" height="1.1" fill="rgb(153,153,153)"/>
<rect x="400.0" y="124.3" width="1.1" height="1.1" fill="rgb(140,140,140)"/>
<rect x="410.6" y="120.7" width="1.1" height="1.1" fill="rgb(121,121,121)"/>
<rect x="401.6" y="121.4" width="1.1" height="1.1" fill="rgb(90,90,90)"/>
<rect x="394.6" y="128.2" width="1.1" height="1.1" fill="rgb(105,105,105)"/>
<rect x="390.5" y="138.0" width="1.1" height="1.1" fill="rgb(130,130,130)"/>
<rect x="395.4" y="125.2" width="1.1" height="1.1" fill="rgb(235,235,235)"/>
<rect x="389.7" y="138.7" width="1.1" height="1.1" fill="rgb(117,117,117)"/>
<rect x="391.5" y="138.0" width="1.1" height="1.1" fill="rgb(46,46,46)"/>
<rect x="392.5" y="131.6" width="1.1" height="1.1" fill="rgb(109,109,109)"/>
<rect x="389.7" y="138.7" width="1.1" height="1.1" fill="rgb(81,81,81)"/>
<rect x="400.6" y="118.2" width="1.1" height="1.1" fill="rgb(36,36,36)"/>
<rect x="393.2" y="133.1" width="1.1" height="1.1" fill="rgb(72,72,72)"/>
<rect x="397.8" y="125.6" width="1.1" height="1.1" fill="rgb(164,164,164)"/>
<rect x="401.4" y="121.1" width="1.1" height="1.1" fill="rgb(173,173,173)"/>
<rect x="393.8" y="132.4" width="1.1" height="1.1" fill="rgb(141,141,141)"/>
<rect x="404.7" y="113.3" width="1.1" height="1.1" fill="rgb(132,132,132)"/>
<rect x="406.9" y="121.0" width="1.1" height="1.1" fill="rgb(138,138,138)"/>
<rect x="386.5" y="135.3" width="1.1" height="1.1" fill="rgb(77,77,77)"/>
<rect x="390.1" y="137.1" width="1.1" height="1.1" fill="rgb(179,179,179)"/>
<rect x="393.6" y="132.0" width="1.1" height="1.1" fill="rgb(143,143,143)"/>
<rect x="402.6" y="122.5" width="1.1" height="1.1" fill="rgb(123,123,123)"/>
<rect x="396.0" y="124.9" width="1.1" height="1.1" fill="rgb(41,41,41)"/>
<rect x="389.6" y="133.3" width="1.1" height="1.1" fill="rgb(82,82,82)"/>
<rect x="397.4" y="122.8" width="1.1" height="1.1" fill="rgb(106,106,106)"/>
<rect x="400.3" y="125.4" width="1.1" height="1.1" fill="rgb(145,145,145)"/>
<rect x="393.8" y="128.0" width="1.1" height="1.1" fill="rgb(39,39,39)"/>
<rect x="401.2" y="114.8" width="1.1" height="1.1" fill="rgb(106,106,106)"/>
<rect x="386.1" y="134.6" width="1.1" height="1.1" fill="rgb(82,82,82)"/>
<rect x="406.1" y="112.7" width="1.1" height="1.1" fill="rgb(94,94,94)"/>
<rect x="395.0" y="119.7" width="1.1" height="1.1" fill="rgb(136,136,136)"/>
<rect x="403.7" y="122.0" width="1.1" height="1.1" fill="rgb(109,109,109)"/>
<rect x="385.6" y="133.4" width="1.1" height="1.1" fill="rgb(42,42,42)"/>
<rect x="403.9" y="116.9" width="1.1" height="1.1" fill="rgb(102,102,102)"/>
<rect x="388.1" y="137.0" width="1.1" height="1.1" fill="rgb(107,107,107)"/>
<rect x="386.0" y="138.4" width="1.1" height="1.1" fill="rgb(33,33,33)"/>
<rect x="393.3" y="128.9" width="1.1" height="1.1" fill="rgb(129,129,129)"/>
<rect x="395.1" y="134.9" width="1.1" height="1.1" fill="rgb(231,231,231)"/>
<rect x="395.1" y="124.8" width="1.1" height="1.1" fill="rgb(218,218,218)"/>
<rect x="398.4" y="125.8" width="1.1" height="1.1" fill="rgb(174,174,174)"/>
<rect x="400.8" y="120.2" width="1.1" height="1.1" fill="rgb(159,159,159)"/>
<rect x="393.7" y="126.7" width="1.1" height="1.1" fill="rgb(30,30,30)"/>
<rect x="397.1" y="132.6" width="1.1" height="1.1" fill="rgb(117,117,117)"/>
<rect x="390.4" y="140.2" width="1.1" height="1.1" fill="rgb(15,15,15)"/>
<rect x="390.8" y="138.5" width="1.1" height="1.1" fill="rgb(15,15,15)"/>
<rect x="399.1" y="132.1" width="1.1" height="1.1" fill="rgb(87,87,87)"/>
<rect x="393.5" y="132.8" width="1.1" height="1.1" fill="rgb(68,68,68)"/>
<rect x="389.6" y="134.2" width="1.1" height="1.1" fill="rgb(110,110,110)"/>
<rect x="391.4" y="136.9" width="1.1" height="1.1" fill="rgb(93,93,93)"/>
<rect x="389.9" y="133.0" width="1.1" height="1.1" fill="rgb(86,86,86)"/>
<rect x="406.0" y="114.7" width="1.1" height="1.1" fill="rgb(157,157,157)"/>
<rect x="406.4" y="118.3" width="1.1" height="1.1" fill="rgb(119,119,119)"/>
<rect x="400.0" y="123.3" width="1.1" height="1.1" fill="rgb(188,188,188)"/>
<rect x="399.8" y="129.3" width="1.1" height="1.1" fill="rgb(152,152,152)"/>
<rect x="408.4" y="114.3" width="1.1" height="1.1" fill="rgb(160,160,160)"/>
<rect x="394.7" y="130.6" width="1.1" height="1.1" fill="rgb(184,184,184)"/>
<rect x="393.7" y="134.0" width="1.1" height="1.1" fill="rgb(107,107,107)"/>
<rect x="391.9" y="132.7" width="1.1" height="1.1" fill="rgb(75,75,75)"/>
<rect x="401.1" y="116.4" width="1.1" height="1.1" fill="rgb(221,221,221)"/>
<rect x="400.3" y="129.5" width="1.1" height="1.1" fill="rgb(123,123,123)"/>
<rect x="390.3" y="138.2" width="1.1" height="1.1" fill="rgb(27,27,27)"/>
<rect x="387.2" y="134.7" width="1.1" height="1.1" fill="rgb(78,78,78)"/>
<rect x="399.7" y="124.8" width="1.1" height="1.1" fill="rgb(139,139,139)"/>
<rect x="386.6" y="135.4" width="1.1" height="1.1" fill="rgb(63,63,63)"/>
<rect x="397.8" y="122.1" width="1.1" height="1.1" fill="rgb(116,116,116)"/>
<rect x="400.5" y="118.0" width="1.1" height="1.1" fill="rgb(91,91,91)"/>
<rect x="395.8" y="123.3" width="1.1" height="1.1" fill="rgb(145,145,145)"/>
<rect x="398.1" y="126.1" width="1.1" height="1.1" fill="rgb(75,75,75)"/>
<rect x="400.8" y="126.5" width="1.1" height="1.1" fill="rgb(94,94,94)"/>
<rect x="393.0" y="135.0" width="1.1" height="1.1" fill="rgb(135,135,135)"/>
<rect x="406.3" y="120.2" width="1.1" height="1.1" fill="rgb(56,56,56)"/>
<rect x="397.3" y="128.2" width="1.1" height="1.1" fill="rgb(104,104,104)"/>
<rect x="387.7" y="132.5" width="1.1" height="1.1" fill="rgb(83,83,83)"/>
<rect x="400.1" y="116.5" width="1.1" height="1.1" fill="rgb(153,153,153)"/>
<rect x="404.9" y="118.2" width="1.1" height="1.1" fill="rgb(134,134,134)"/>
<rect x="392.5" y="131.7" width="1.1" height="1.1" fill="rgb(87,87,87)"/>
<rect x="391.9" y="134.8" width="1.1" height="1.1" fill="rgb(61,61,61)"/>
<rect x="402.5" y="121.4" width="1.1" height="1.1" fill="rgb(169,169,169)"/>
<rect x="391.6" y="139.3" width="1.1" height="1.1" fill="rgb(131,131,131)"/>
<rect x="388.0" y="133.0" width="1.1" height="1.1" fill="rgb(79,79,79)"/>
<rect x="387.8" y="139.0" width="1.1" height="1.1" fill="rgb(144,144,144)"/>
<rect x="389.1" y="138.0" width="1.1" height="1.1" fill="rgb(32,32,32)"/>
<rect x="398.9" y="124.0" width="1.1" height="1.1" fill="rgb(224,224,224)"/>
<rect x="397.1" y="130.9" width="1.1" height="1.1" fill="rgb(50,50,50)"/>
<rect x="387.9" y="137.4" width="1.1" height="1.1" fill="rgb(74,74,74)"/>
<rect x="398.5" y="134.7" width="1.1" height="1.1" fill="rgb(88,88,88)"/>
<rect x="402.3" y="120.0" width="1.1" height="1.1" fill="rgb(38,38,38)"/>
<rect x="403.1" y="117.2" width="1.1" height="1.1" fill="rgb(76,76,76)"/>
<rect x="396.4" y="125.7" width="1.1" height="1.1" fill="rgb(34,34,34)"/>
<rect x="395.4" y="130.2" width="1.1" height="1.1" fill="rgb(41,41,41)"/>
<rect x="397.7" y="126.2" width="1.1" height="1.1" fill="rgb(35,35,35)"/>
<rect x="396.4" y="125.6" width="1.1" height="1.1" fill="rgb(138,138,138)"/>
<rect x="387.3" y="135.7" width="1.1" height="1.1" fill="rgb(123,123,123)"/>
<rect x="386.7" y="133.5" width="1.1" height="1.1" fill="rgb(109,109,109)"/>
<rect x="387.4" y="136.7" width="1.1" height="1.1" fill="rgb(81,81,81)"/>
<rect x="394.1" y="126.0" width="1.1" height="1.1" fill="rgb(114,114,114)"/>
<rect x="391.3" y="133.3" width="1.1" height="1.1" fill="rgb(70,70,70)"/>
<rect x="393.7" y="136.4" width="1.1" height="1.1" fill="rgb(110,110,110)"/>
<rect x="390.0" y="134.2" width="1.1" height="1.1" fill="rgb(35,35,35)"/>
<rect x="398.0" y="123.3" width="1.1" height="1.1" fill="rgb(132,132,132)"/>
<rect x="385.8" y="136.4" width="1.1" height="1.1" fill="rgb(85,85,85)"/>
<rect x="408.1" y="120.3" width="1.1" height="1.1" fill="rgb(112,112,112)"/>
<rect x="391.6" y="141.8" width="1.1" height="1.1" fill="rgb(84,84,84)"/>
<rect x="396.1" y="126.2" width="1.1" height="1.1" fill="rgb(144,144,144)"/>
<rect x="400.6" y="120.9" width="1.1" height="1.1" fill="rgb(100,100,100)"/>
<rect x="395.1" y="126.7" width="1.1" height="1.1" fill="rgb(151,151,151)"/>
<rect x="390.7" y="140.0" width="1.1" height="1.1" fill="rgb(101,101,101)"/>
<rect x="387.8" y="129.8" width="1.1" height="1.1" fill="rgb(130,130,130)"/>
<rect x="385.5" y="133.4" width="1.1" height="1.1" fill="rgb(45,45,45)"/>
<rect x="400.5" y="128.2" width="1.1" height="1.1" fill="rgb(199,199,199)"/>
<rect x="398.7" y="122.7" width="1.1" height="1.1" fill="rgb(157,157,157)"/>
<rect x="406.9" y="122.9" width="1.1" height="1.1" fill="rgb(175,175,175)"/>
<rect x="389.4" y="133.7" width="1.1" height="1.1" fill="rgb(106,106,106)"/>
<rect x="393.3" y="130.6" width="1.1" height="1.1" fill="rgb(193,193,193)"/>
<rect x="403.7" y="122.0" width="1.1" height="1.1" fill="rgb(161,161,161)"/>
<rect x="401.6" y="119.0" width="1.1" height="1.1" fill="rgb(126,126,126)"/>
<rect x="389.3" y="138.1" width="1.1" height="1.1" fill="rgb(102,102,102)"/>
<rect x="397.8" y="128.5" width="1.1" height="1.1" fill="rgb(78,78,78)"/>
<rect x="404.7" y="120.7" width="1.1" height="1.1" fill="rgb(81,81,81)"/>
<rect x="406.7" y="113.6" width="1.1" height="1.1" fill="rgb(235,235,235)"/>
<rect x="393.2" y="128.9" width="1.1" height="1.1" fill="rgb(83,83,83)"/>
<rect x="392.6" y="131.2" width="1.1" height="1.1" fill="rgb(76,76,76)"/>
<rect x="393.6" y="127.2" width="1.1" height="1.1" fill="rgb(101,101,101)"/>
<rect x="401.8" y="116.7" width="1.1" height="1.1" fill="rgb(126,126,126)"/>
<rect x="396.2" y="122.8" width="1.1" height="1.1" fill="rgb(79,79,79)"/>
<rect x="386.9" y="136.1" width="1.1" height="1.1" fill="rgb(84,84,84)"/>
<rect x="394.1" y="132.7" width="1.1" height="1.1" fill="rgb(105,105,105)"/>
<rect x="386.6" y="134.6" width="1.1" height="1.1" fill="rgb(15,15,15)"/>
<rect x="392.3" y="131.1" width="1.1" height="1.1" fill="rgb(164,164,164)"/>
<rect x="401.5" y="125.0" width="1.1" height="1.1" fill="rgb(130,130,130)"/>
<rect x="405.1" y="118.4" width="1.1" height="1.1" fill="rgb(125,125,125)"/>
<rect x="400.9" y="116.5" width="1.1" height="1.1" fill="rgb(136,136,136)"/>
<rect x="386.9" y="137.2" width="1.1" height="1.1" fill="rgb(63,63,63)"/>
<rect x="398.9" y="132.5" width="1.1" height="1.1" fill="rgb(72,72,72)"/>
<rect x="393.1" y="140.5" width="1.1" height="1.1" fill="rgb(38,38,38)"/>
<rect x="389.0" y="129.8" width="1.1" height="1.1" fill="rgb(87,87,87)"/>
<rect x="391.3" y="131.2" width="1.1" height="1.1" fill="rgb(82,82,82)"/>
<rect x="393.7" y="129.8" width="1.1" height="1.1" fill="rgb(76,76,76)"/>
<rect x="403.4" y="121.8" width="1.1" height="1.1" fill="rgb(133,133,133)"/>
<rect x="394.7" y="130.1" width="1.1" height="1.1" fill="rgb(127,127,127)"/>
<rect x="388.7" y="132.8" width="1.1" height="1.1" fill="rgb(45,45,45)"/>
<rect x="404.3" y="126.3" width="1.1" height="1.1" fill="rgb(83,83,83)"/>
<rect x="394.4" y="130.9" width="1.1" height="1.1" fill="rgb(93,93,93)"/>
<rect x="390.9" y="137.9" width="1.1" height="1.1" fill="rgb(171,171,171)"/>
<rect x="391.3" y="137.1" width="1.1" height="1.1" fill="rgb(135,135,135)"/>
<rect x="404.4" y="126.3" width="1.1" height="1.1" fill="rgb(177,177,177)"/>
<rect x="409.0" y="115.7" width="1.1" height="1.1" fill="rgb(120,120,120)"/>
<rect x="388.0" y="136.2" width="1.1" height="1.1" fill="rgb(148,148,148)"/>
<rect x="405.0" y="116.5" width="1.1" height="1.1" fill="rgb(41,41,41)"/>
<rect x="391.7" y="130.9" width="1.1" height="1.1" fill="rgb(47,47,47)"/>
<rect x="402.2" y="122.3" width="1.1" height="1.1" fill="rgb(37,37,37)"/>
<rect x="389.3" y="135.7" width="1.1" height="1.1" fill="rgb(15,15,15)"/>
<rect x="404.9" y="118.8" width="1.1" height="1.1" fill="rgb(193,193,193)"/>
<rect x="393.4" y="133.6" width="1.1" height="1.1" fill="rgb(134,134,134)"/>
<rect x="392.7" y="132.4" width="1.1" height="1.1" fill="rgb(125,125,125)"/>
<rect x="390.9" y="134.7" width="1.1" height="1.1" fill="rgb(94,94,94)"/>
<rect x="402.2" y="121.4" width="1.1" height="1.1" fill="rgb(120,120,120)"/>
<rect x="390.3" y="137.0" width="1.1" height="1.1" fill="rgb(137,137,137)"/>
<rect x="398.0" y="126.7" width="1.1" height="1.1" fill="rgb(52,52,52)"/>
<rect x="393.0" y="137.4" width="1.1" height="1.1" fill="rgb(55,55,55)"/>
<rect x="401.7" y="122.1" width="1.1" height="1.1" fill="rgb(144,144,144)"/>
<rect x="400.6" y="122.1" width="1.1" height="1.1" fill="rgb(85,85,85)"/>
<rect x="398.4" y="125.4" width="1.1" height="1.1" fill="rgb(136,136,136)"/>
<rect x="393.1" y="130.9" width="1.1" height="1.1" fill="rgb(59,59,59)"/>
<rect x="409.6" y="117.7" width="1.1" height="1.1" fill="rgb(138,138,138)"/>
<rect x="404.0" y="119.1" width="1.1" height="1.1" fill="rgb(112,112,112)"/>
<rect x="394.5" y="134.2" width="1.1" height="1.1" fill="rgb(85,85,85)"/>
<rect x="387.3" y="137.8" width="1.1" height="1.1" fill="rgb(59,59,59)"/>
<rect x="398.0" y="126.0" width="1.1" height="1.1" fill="rgb(15,15,15)"/>
<rect x="393.8" y="137.0" width="1.1" height="1.1" fill="rgb(102,102,102)"/>
<rect x="390.6" y="135.3" width="1.1" height="1.1" fill="rgb(15,15,15)"/>
<rect x="391.0" y="135.4" width="1.1" height="1.1" fill="rgb(117,117,117)"/>
<rect x="385.4" y="137.0" width="1.1" height="1.1" fill="rgb(77,77,77)"/>
<rect x="398.2" y="124.4" width="1.1" height="1.1" fill="rgb(78,78,78)"/>
<rect x="403.4" y="113.0" width="1.1" height="1.1" fill="rgb(119,119,119)"/>
<rect x="402.4" y="112.9" width="1.1" height="1.1" fill="rgb(123,123,123)"/>
<rect x="387.7" y="134.8" width="1.1" height="1.1" fill="rgb(25,25,25)"/>
<rect x="388.3" y="137.8" width="1.1" height="1.1" fill="rgb(128,128,128)"/>
<rect x="392.5" y="131.3" width="1.1" height="1.1" fill="rgb(146,146,146)"/>
<rect x="405.0" y="117.5" width="1.1" height="1.1" fill="rgb(120,120,120)"/>
<rect x="386.8" y="137.1" width="1.1" height="1.1" fill="rgb(154,154,154)"/>
<rect x="399.8" y="126.9" width="1.1" height="1.1" fill="rgb(149,149,149)"/>
<rect x="389.1" y="137.3" width="1.1" height="1.1" fill="rgb(76,76,76)"/>
<rect x="391.9" y="131.0" width="1.1" height="1.1" fill="rgb(35,35,35)"/>
<rect x="391.0" y="138.3" width="1.1" height="1.1" fill="rgb(21,21,21)"/>
<rect x="393.1" y="133.2" width="1.1" height="1.1" fill="rgb(63,63,63)"/>
<rect x="394.5" y="127.9" width="1.1" height="1.1" fill="rgb(52,52,52)"/>
<rect x="403.0" y="118.9" width="1.1" height="1.1" fill="rgb(88,88,88)"/>
<rect x="411.7" y="117.0" width="1.1" height="1.1" fill="rgb(105,105,105)"/>
<rect x="395.9" y="123.3" width="1.1" height="1.1" fill="rgb(154,154,154)"/>
<rect x="397.1" y="130.6" width="1.1" height="1.1" fill="rgb(117,117,117)"/>
<rect x="390.2" y="131.0" width="1.1" height="1.1" fill="rgb(107,107,107)"/>
<rect x="395.5" y="126.7" width="1.1" height="1.1" fill="rgb(53,53,53)"/>
<rect x="389.2" y="139.1" width="1.1" height="1.1" fill="rgb(59,59,59)"/>
<rect x="395.4" y="136.4" width="1.1" height="1.1" fill="rgb(188,188,188)"/>
<rect x="401.9" y="125.5" width="1.1" height="1.1" fill="rgb(165,165,165)"/>
<rect x="398.1" y="126.1" width="1.1" height="1.1" fill="rgb(19,19,19)"/>
<rect x="399.7" y="128.4" width="1.1" height="1.1" fill="rgb(167,167,167)"/>
<rect x="387.4" y="127.2" width="1.1" height="1.1" fill="rgb(75,75,75)"/>
<rect x="399.2" y="121.3" width="1.1" height="1.1" fill="rgb(71,71,71)"/>
<rect x="393.3" y="132.9" width="1.1" height="1.1" fill="rgb(79,79,79)"/>
<rect x="403.5" y="120.0" width="1.1" height="1.1" fill="rgb(64,64,64)"/>
<rect x="404.6" y="110.4" width="1.1" height="1.1" fill="rgb(168,168,168)"/>
<rect x="396.0" y="125.5" width="1.1" height="1.1" fill="rgb(141,141,141)"/>
<rect x="399.4" y="126.7" width="1.1" height="1.1" fill="rgb(54,54,54)"/>
<rect x="399.0" y="126.2" width="1.1" height="1.1" fill="rgb(111,111,111)"/>
<rect x="399.4" y="123.0" width="1.1" height="1.1" fill="rgb(178,178,178)"/>
<rect x="397.6" y="127.4" width="1.1" height="1.1" fill="rgb(145,145,145)"/>
<rect x="392.0" y="127.9" width="1.1" height="1.1" fill="rgb(154,154,154)"/>
<rect x="407.9" y="115.2" width="1.1" height="1.1" fill="rgb(202,202,202)"/>
<rect x="402.2" y="124.3" width="1.1" height="1.1" fill="rgb(93,93,93)"/>
<rect x="400.8" y="121.8" width="1.1" height="1.1" fill="rgb(134,134,134)"/>
<rect x="402.8" y="113.7" width="1.1" height="1.1" fill="rgb(183,183,183)"/>
<rect x="397.4" y="126.2" width="1.1" height="1.1" fill="rgb(32,32,32)"/>
<rect x="398.6" y="129.8" width="1.1" height="1.1" fill="rgb(67,67,67)"/>
<rect x="389.9" y="135.9" width="1.1" height="1.1" fill="rgb(30,30,30)"/>
<rect x="389.0" y="138.7" width="1.1" height="1.1" fill="rgb(114,114,114)"/>
<rect x="403.9" y="117.1" width="1.1" height="1.1" fill="rgb(161,161,161)"/>
<rect x="387.7" y="137.2" width="1.1" height="1.1" fill="rgb(96,96,96)"/>
<rect x="394.2" y="125.0" width="1.1" height="1.1" fill="rgb(29,29,29)"/>
<rect x="403.6" y="122.7" width="1.1" height="1.1" fill="rgb(103,103,103)"/>
<rect x="388.9" y="134.8" width="1.1" height="1.1" fill="rgb(80,80,80)"/>
<rect x="385.9" y="134.9" width="1.1" height="1.1" fill="rgb(114,114,114)"/>
<rect x="394.4" y="142.2" width="1.1" height="1.1" fill="rgb(54,54,54)"/>
<rect x="391.0" y="137.5" width="1.1" height="1.1" fill="rgb(44,44,44)"/>
<rect x="399.1" y="122.5" width="1.1" height="1.1" fill="rgb(58,58,58)"/>
<rect x="388.1" y="129.0" width="1.1" height="1.1" fill="rgb(86,86,86)"/>
<rect x="404.4" y="118.9" width="1.1" height="1.1" fill="rgb(176,176,176)"/>
<rect x="398.4" y="134.5" width="1.1" height="1.1" fill="rgb(98,98,98)"/>
<rect x="400.0" y="122.8" width="1.1" height="1.1" fill="rgb(160,160,160)"/>
<rect x="395.7" y="132.8" width="1.1" height="1.1" fill="rgb(164,164,164)"/>
<rect x="390.1" y="135.4" width="1.1" height="1.1" fill="rgb(112,112,112)"/>
<rect x="388.8" y="137.9" width="1.1" height="1.1" fill="rgb(114,114,114)"/>
<rect x="393.5" y="128.0" width="1.1" height="1.1" fill="rgb(84,84,84)"/>
<rect x="390.9" y="133.4" width="1.1" height="1.1" fill="rgb(77,77,77)"/>
<rect x="391.8" y="135.8" width="1.1" height="1.1" fill="rgb(70,70,70)"/>
<rect x="398.8" y="126.2" width="1.1" height="1.1" fill="rgb(150,150,150)"/>
<rect x="387.8" y="138.1" width="1.1" height="1.1" fill="rgb(15,15,15)"/>
<rect x="391.5" y="137.9" width="1.1" height="1.1" fill="rgb(58,58,58)"/>
<rect x="402.2" y="110.1" width="1.1" height="1.1" fill="rgb(130,130,130)"/>
<rect x="399.2" y="123.6" width="1.1" height="1.1" fill="rgb(125,125,125)"/>
<rect x="394.3" y="128.7" width="1.1" height="1.1" fill="rgb(90,90,90)"/>
<rect x="384.2" y="134.7" width="1.1" height="1.1" fill="rgb(127,127,127)"/>
<rect x="408.4" y="116.2" width="1.1" height="1.1" fill="rgb(155,155,155)"/>
<rect x="392.4" y="133.9" width="1.1" height="1.1" fill="rgb(107,107,107)"/>
<rect x="399.6" y="119.9" width="1.1" height="1.1" fill="rgb(167,167,167)"/>
<rect x="393.9" y="135.5" width="1.1" height="1.1" fill="rgb(92,92,92)"/>
<rect x="396.1" y="124.5" width="1.1" height="1.1" fill="rgb(120,120,120)"/>
<rect x="391.6" y="139.5" width="1.1" height="1.1" fill="rgb(163,163,163)"/>
<rect x="399.6" y="121.6" width="1.1" height="1.1" fill="rgb(83,83,83)"/>
<rect x="396.8" y="126.1" width="1.1" height="1.1" fill="rgb(170,170,170)"/>
<rect x="391.8" y="136.5" width="1.1" height="1.1" fill="rgb(85,85,85)"/>
<rect x="397.3" y="126.0" width="1.1" height="1.1" fill="rgb(96,96,96)"/>
<rect x="395.6" y="130.7" width="1.1" height="1.1" fill="rgb(50,50,50)"/>
<rect x="391.2" y="134.2" width="1.1" height="1.1" fill="rgb(15,15,15)"/>
<rect x="404.2" y="120.0" width="1.1" height="1.1" fill="rgb(77,77,77)"/>
<rect x="399.5" y="125.3" width="1.1" height="1.1" fill="rgb(81,81,81)"/>
<rect x="390.2" y="135.7" width="1.1" height="1.1" fill="rgb(138,138,138)"/>
<rect x="389.5" y="135.6" width="1.1" height="1.1" fill="rgb(141,141,141)"/>
<rect x="397.0" y="125.3" width="1.1" height="1.1" fill="rgb(133,133,133)"/>
<rect x="387.1" y="136.5" width="1.1" height="1.1" fill="rgb(47,47,47)"/>
<rect x="407.4" y="117.2" width="1.1" height="1.1" fill="rgb(15,15,15)"/>
<rect x="399.3" y="129.9" width="1.1" height="1.1" fill="rgb(148,148,148)"/>
<rect x="410.4" y="115.7" width="1.1" height="1.1" fill="rgb(173,173,173)"/>
<rect x="401.2" y="120.1" width="1.1" height="1.1" fill="rgb(191,191,191)"/>
<rect x="390.9" y="133.0" width="1.1" height="1.1" fill="rgb(119,119,119)"/>
<rect x="404.8" y="118.2" width="1.1" height="1.1" fill="rgb(157,157,157)"/>
<rect x="388.5" y="139.0" width="1.1" height="1.1" fill="rgb(123,123,123)"/>
<rect x="400.7" y="121.9" width="1.1" height="1.1" fill="rgb(154,154,154)"/>
<rect x="388.2" y="134.2" width="1.1" height="1.1" fill="rgb(78,78,78)"/>
<rect x="397.9" y="126.3" width="1.1" height="1.1" fill="rgb(79,79,79)"/>
<rect x="401.4" y="124.6" width="1.1" height="1.1" fill="rgb(72,72,72)"/>
<rect x="406.3" y="117.8" width="1.1" height="1.1" fill="rgb(102,102,102)"/>
<rect x="390.1" y="136.0" width="1.1" height="1.1" fill="rgb(56,56,56)"/>
<rect x="405.7" y="118.3" width="1.1" height="1.1" fill="rgb(235,235,235)"/>
<rect x="395.3" y="125.9" width="1.1" height="1.1" fill="rgb(124,124,124)"/>
<rect x="397.2" y="128.9" width="1.1" height="1.1" fill="rgb(101,101,101)"/>
<rect x="396.1" y="137.0" width="1.1" height="1.1" fill="rgb(81,81,81)"/>
<rect x="390.9" y="140.8" width="1.1" height="1.1" fill="rgb(146,146,146)"/>
<rect x="392.8" y="131.8" width="1.1" height="1.1" fill="rgb(132,132,132)"/>
<rect x="403.2" y="123.9" width="1.1" height="1.1" fill="rgb(150,150,150)"/>
<rect x="398.5" y="116.3" width="1.1" height="1.1" fill="rgb(113,113,113)"/>
<rect x="388.7" y="131.4" width="1.1" height="1.1" fill="rgb(87,87,87)"/>
<rect x="404.0" y="117.3" width="1.1" height="1.1" fill="rgb(116,116,116)"/>
<rect x="396.2" y="126.6" width="1.1" height="1.1" fill="rgb(61,61,61)"/>
<rect x="393.2" y="135.9" width="1.1" height="1.1" fill="rgb(74,74,74)"/>
<rect x="400.9" y="113.2" width="1.1" height="1.1" fill="rgb(107,107,107)"/>
<rect x="387.5" y="137.6" width="1.1" height="1.1" fill="rgb(37,37,37)"/>
<rect x="399.6" y="122.9" width="1.1" height="1.1" fill="rgb(59,59,59)"/>
<rect x="396.7" y="133.9" width="1.1" height="1.1" fill="rgb(171,171,171)"/>
<rect x="396.7" y="125.2" width="1.1" height="1.1" fill="rgb(57,57,57)"/>
<rect x="401.3" y="124.6" width="1.1" height="1.1" fill="rgb(143,143,143)"/>
<rect x="403.8" y="119.0" width="1.1" height="1.1" fill="rgb(175,175,175)"/>
<rect x="387.8" y="134.3" width="1.1" height="1.1" fill="rgb(146,146,146)"/>
<rect x="390.9" y="134.5" width="1.1" height="1.1" fill="rgb(101,101,101)"/>
<rect x="405.4" y="109.8" width="1.1" height="1.1" fill="rgb(120,120,120)"/>
<rect x="397.7" y="129.4" width="1.1" height="1.1" fill="rgb(81,81,81)"/>
<rect x="392.4" y="128.9" width="1.1" height="1.1" fill="rgb(66,66,66)"/>
<rect x="390.6" y="135.6" width="1.1" height="1.1" fill="rgb(36,36,36)"/>
<rect x="405.1" y="115.2" width="1.1" height="1.1" fill="rgb(91,91,91)"/>
<rect x="397.7" y="130.4" width="1.1" height="1.1" fill="rgb(48,48,48)"/>
<rect x="395.1" y="129.7" width="1.1" height="1.1" fill="rgb(148,148,148)"/>
<rect x="402.6" y="122.0" width="1.1" height="1.1" fill="rgb(95,95,95)"/>
<rect x="401.3" y="129.6" width="1.1" height="1.1" fill="rgb(144,144,144)"/>
<rect x="404.6" y="116.0" width="1.1" height="1.1" fill="rgb(189,189,189)"/>
<rect x="393.7" y="130.3" width="1.1" height="1.1" fill="rgb(99,99,99)"/>
<rect x="387.0" y="136.1" width="1.1" height="1.1" fill="rgb(165,165,165)"/>
<rect x="395.8" y="136.1" width="1.1" height="1.1" fill="rgb(118,118,118)"/>
<rect x="405.6" y="118.6" width="1.1" height="1.1" fill="rgb(101,101,101)"/>
<rect x="397.8" y="131.8" width="1.1" height="1.1" fill="rgb(72,72,72)"/>
<rect x="391.1" y="129.8" width="1.1" height="1.1" fill="rgb(76,76,76)"/>
<rect x="399.0" y="125.8" width="1.1" height="1.1" fill="rgb(156,156,156)"/>
<rect x="402.2" y="121.6" width="1.1" height="1.1" fill="rgb(91,91,91)"/>
<rect x="389.4" y="139.8" width="1.1" height="1.1" fill="rgb(120,120,120)"/>
<rect x="397.7" y="128.4" width="1.1" height="1.1" fill="rgb(179,179,179)"/>
<rect x="398.9" y="121.3" width="1.1" height="1.1" fill="rgb(122,122,122)"/>
<rect x="398.2" y="117.2" width="1.1" height="1.1" fill="rgb(127,127,127)"/>
<rect x="409.9" y="115.9" width="1.1" height="1.1" fill="rgb(151,151,151)"/>
<rect x="390.3" y="136.7" width="1.1" height="1.1" fill="rgb(149,149,149)"/>
<rect x="390.1" y="134.3" width="1.1" height="1.1" fill="rgb(138,138,138)"/>
<rect x="390.7" y="134.1" width="1.1" height="1.1" fill="rgb(98,98,98)"/>
<rect x="390.1" y="133.8" width="1.1" height="1.1" fill="rgb(78,78,78)"/>
<rect x="409.6" y="119.1" width="1.1" height="1.1" fill="rgb(152,152,152)"/>
<rect x="391.5" y="133.8" width="1.1" height="1.1" fill="rgb(97,97,97)"/>
<rect x="391.2" y="134.2" width="1.1" height="1.1" fill="rgb(65,65,65)"/>
<rect x="388.2" y="131.9" width="1.1" height="1.1" fill="rgb(71,71,71)"/>
<rect x="406.4" y="113.0" width="1.1" height="1.1" fill="rgb(104,104,104)"/>
<rect x="391.1" y="132.5" width="1.1" height="1.1" fill="rgb(133,133,133)"/>
<rect x="407.9" y="117.5" width="1.1" height="1.1" fill="rgb(150,150,150)"/>
<rect x="406.1" y="116.9" width="1.1" height="1.1" fill="rgb(72,72,72)"/>
<rect x="390.3" y="135.8" width="1.1" height="1.1" fill="rgb(96,96,96)"/>
<rect x="394.9" y="125.5" width="1.1" height="1.1" fill="rgb(88,88,88)"/>
<rect x="392.0" y="137.2" width="1.1" height="1.1" fill="rgb(141,141,141)"/>
<rect x="396.7" y="129.6" width="1.1" height="1.1" fill="rgb(115,115,115)"/>
<rect x="401.2" y="116.9" width="1.1" height="1.1" fill="rgb(184,184,184)"/>
<rect x="396.7" y="129.9" width="1.1" height="1.1" fill="rgb(119,119,119)"/>
<rect x="399.2" y="125.6" width="1.1" height="1.1" fill="rgb(112,112,112)"/>
<rect x="389.4" y="134.6" width="1.1" height="1.1" fill="rgb(50,50,50)"/>
<rect x="398.5" y="121.8" width="1.1" height="1.1" fill="rgb(149,149,149)"/>
<rect x="401.9" y="117.5" width="1.1" height="1.1" fill="rgb(164,164,164)"/>
<rect x="393.3" y="138.3" width="1.1" height="1.1" fill="rgb(48,48,48)"/>
<rect x="407.4" y="115.0" width="1.1" height="1.1" fill="rgb(26,26,26)"/>
<rect x="394.2" y="129.3" width="1.1" height="1.1" fill="rgb(86,86,86)"/>
<rect x="396.0" y="116.0" width="1.1" height="1.1" fill="rgb(88,88,88)"/>
<rect x="387.0" y="137.7" width="1.1" height="1.1" fill="rgb(102,102,102)"/>
<rect x="393.1" y="129.8" width="1.1" height="1.1" fill="rgb(93,93,93)"/>
<rect x="387.4" y="134.0" width="1.1" height="1.1" fill="rgb(28,28,28)"/>
<rect x="399.0" y="125.2" width="1.1" height="1.1" fill="rgb(81,81,81)"/>
<rect x="391.9" y="134.7" width="1.1" height="1.1" fill="rgb(97,97,97)"/>
<rect x="398.1" y="126.7" width="1.1" height="1.1" fill="rgb(145,145,145)"/>
<rect x="388.9" y="131.9" width="1.1" height="1.1" fill="rgb(82,82,82)"/>
<rect x="400.6" y="128.6" width="1.1" height="1.1" fill="rgb(61,61,61)"/>
<rect x="408.1" y="119.6" width="1.1" height="1.1" fill="rgb(79,79,79)"/>
<rect x="389.7" y="130.3" width="1.1" height="1.1" fill="rgb(114,114,114)"/>
<rect x="392.2" y="135.7" width="1.1" height="1.1" fill="rgb(66,66,66)"/>
<rect x="391.0" y="133.9" width="1.1" height="1.1" fill="rgb(56,56,56)"/>
<rect x="392.4" y="139.5" width="1.1" height="1.1" fill="rgb(49,49,49)"/>
<rect x="406.1" y="118.3" width="1.1" height="1.1" fill="rgb(202,202,202)"/>
<rect x="398.9" y="126.2" width="1.1" height="1.1" fill="rgb(30,30,30)"/>
<rect x="400.9" y="123.4" width="1.1" height="1.1" fill="rgb(123,123,123)"/>
<rect x="401.3" y="119.1" width="1.1" height="1.1" fill="rgb(144,144,144)"/>
<rect x="388.7" y="136.1" width="1.1" height="1.1" fill="rgb(80,80,80)"/>
<rect x="400.5" y="120.1" width="1.1" height="1.1" fill="rgb(174,174,174)"/>
<rect x="396.9" y="125.0" width="1.1" height="1.1" fill="rgb(145,145,145)"/>
<rect x="402.4" y="121.5" width="1.1" height="1.1" fill="rgb(118,118,118)"/>
<rect x="393.6" y="141.9" width="1.1" height="1.1" fill="rgb(133,133,133)"/>
<rect x="396.1" y="121.8" width="1.1" height="1.1" fill="rgb(149,149,149)"/>
<rect x="388.3" y="138.1" width="1.1" height="1.1" fill="rgb(80,80,80)"/>
<rect x="397.5" y="122.8" width="1.1" height="1.1" fill="rgb(84,84,84)"/>
<rect x="406.7" y="116.7" width="1.1" height="1.1" fill="rgb(213,213,213)"/>
<rect x="390.1" y="138.6" width="1.1" height="1.1" fill="rgb(88,88,88)"/>
<rect x="406.0" y="114.8" width="1.1" height="1.1" fill="rgb(149,149,149)"/>
<rect x="401.5" y="123.2" width="1.1" height="1.1" fill="rgb(108,108,108)"/>
<rect x="394.8" y="134.2" width="1.1" height="1.1" fill="rgb(80,80,80)"/>
<rect x="407.5" y="114.2" width="1.1" height="1.1" fill="rgb(150,150,150)"/>
<rect x="391.7" y="133.9" width="1.1" height="1.1" fill="rgb(91,91,91)"/>
<rect x="392.2" y="134.6" width="1.1" height="1.1" fill="rgb(211,211,211)"/>
<rect x="394.5" y="132.2" width="1.1" height="1.1" fill="rgb(104,104,104)"/>
<rect x="391.9" y="128.0" width="1.1" height="1.1" fill="rgb(143,143,143)"/>
<rect x="399.1" y="123.5" width="1.1" height="1.1" fill="rgb(110,110,110)"/>
<rect x="392.2" y="133.6" width="1.1" height="1.1" fill="rgb(39,39,39)"/>
<rect x="395.9" y="116.1" width="1.1" height="1.1" fill="rgb(152,152,152)"/>
<rect x="404.1" y="126.6" width="1.1" height="1.1" fill="rgb(98,98,98)"/>
<rect x="402.4" y="117.2" width="1.1" height="1.1" fill="rgb(55,55,55)"/>
<rect x="394.0" y="139.0" width="1.1" height="1.1" fill="rgb(134,134,134)"/>
<rect x="390.1" y="135.7" width="1.1" height="1.1" fill="rgb(87,87,87)"/>
<rect x="406.1" y="114.1" width="1.1" height="1.1" fill="rgb(165,165,165)"/>
<rect x="400.3" y="115.2" width="1.1" height="1.1" fill="rgb(112,112,112)"/>
<rect x="394.7" y="133.7" width="1.1" height="1.1" fill="rgb(71,71,71)"/>
<rect x="401.5" y="120.6" width="1.1" height="1.1" fill="rgb(159,159,159)"/>
<rect x="394.7" y="129.8" width="1.1" height="1.1" fill="rgb(88,88,88)"/>
<rect x="393.1" y="131.8" width="1.1" height="1.1" fill="rgb(157,157,157)"/>
<rect x="408.9" y="116.4" width="1.1" height="1.1" fill="rgb(204,204,204)"/>
<rect x="404.8" y="120.0" width="1.1" height="1.1" fill="rgb(58,58,58)"/>
<rect x="398.5" y="125.1" width="1.1" height="1.1" fill="rgb(110,110,110)"/>
<rect x="390.9" y="126.8" width="1.1" height="1.1" fill="rgb(114,114,114)"/>
<rect x="395.7" y="126.9" width="1.1" height="1.1" fill="rgb(35,35,35)"/>
<rect x="397.0" y="124.0" width="1.1" height="1.1" fill="rgb(153,153,153)"/>
<rect x="392.3" y="134.9" width="1.1" height="1.1" fill="rgb(128,128,128)"/>
<rect x="401.7" y="124.0" width="1.1" height="1.1" fill="rgb(151,151,151)"/>
<rect x="403.0" y="119.1" width="1.1" height="1.1" fill="rgb(176,176,176)"/>
<rect x="405.2" y="124.7" width="1.1" height="1.1" fill="rgb(114,114,114)"/>
<rect x="396.8" y="123.4" width="1.1" height="1.1" fill="rgb(162,162,162)"/>
<rect x="401.5" y="116.6" width="1.1" height="1.1" fill="rgb(155,155,155)"/>
<rect x="389.6" y="139.0" width="1.1" height="1.1" fill="rgb(129,129,129)"/>
<rect x="396.1" y="128.0" width="1.1" height="1.1" fill="rgb(120,120,120)"/>
<rect x="389.1" y="132.8" width="1.1" height="1.1" fill="rgb(65,65,65)"/>
<rect x="393.1" y="135.2" width="1.1" height="1.1" fill="rgb(147,147,147)"/>
<rect x="396.3" y="129.8" width="1.1" height="1.1" fill="rgb(36,36,36)"/>
<rect x="392.5" y="132.6" width="1.1" height="1.1" fill="rgb(37,37,37)"/>
<rect x="393.5" y="127.2" width="1.1" height="1.1" fill="rgb(116,116,116)"/>
<rect x="402.5" y="121.6" width="1.1" height="1.1" fill="rgb(113,113,113)"/>
<rect x="396.9" y="123.5" width="1.1" height="1.1" fill="rgb(119,119,119)"/>
<rect x="392.6" y="134.0" width="1.1" height="1.1" fill="rgb(76,76,76)"/>
<rect x="392.8" y="132.2" width="1.1" height="1.1" fill="rgb(83,83,83)"/>
<rect x="392.6" y="162.2" width="1.1" height="1.1" fill="rgb(45,45,45)"/>
<rect x="394.9" y="157.7" width="1.1" height="1.1" fill="rgb(100,100,100)"/>
<rect x="397.0" y="159.8" width="1.1" height="1.1" fill="rgb(43,43,43)"/>
<rect x="398.2" y="146.1" width="1.1" height="1.1" fill="rgb(106,106,106)"/>
<rect x="394.7" y="158.5" width="1.1" height="1.1" fill="rgb(30,30,30)"/>
<rect x="393.3" y="146.0" width="1.1" height="1.1" fill="rgb(128,128,128)"/>
<rect x="392.5" y="155.2" width="1.1" height="1.1" fill="rgb(87,87,87)"/>
<rect x="393.4" y="164.1" width="1.1" height="1.1" fill="rgb(43,43,43)"/>
<rect x="392.7" y="168.5" width="1.1" height="1.1" fill="rgb(15,15,15)"/>
<rect x="394.3" y="144.9" width="1.1" height="1.1" fill="rgb(83,83,83)"/>
<rect x="393.6" y="158.4" width="1.1" height="1.1" fill="rgb(15,15,15)"/>
<rect x="392.8" y="152.6" width="1.1" height="1.1" fill="rgb(86,86,86)"/>
<rect x="393.2" y="142.5" width="1.1" height="1.1" fill="rgb(169,169,169)"/>
<rect x="396.1" y="148.2" width="1.1" height="1.1" fill="rgb(25,25,25)"/>
<rect x="393.6" y="159.6" width="1.1" height="1.1" fill="rgb(54,54,54)"/>
<rect x="393.6" y="141.4" width="1.1" height="1.1" fill="rgb(41,41,41)"/>
<rect x="393.3" y="146.5" width="1.1" height="1.1" fill="rgb(15,15,15)"/>
<rect x="392.5" y="151.2" width="1.1" height="1.1" fill="rgb(85,85,85)"/>
<rect x="395.2" y="155.2" width="1.1" height="1.1" fill="rgb(105,105,105)"/>
<rect x="393.0" y="159.8" width="1.1" height="1.1" fill="rgb(15,15,15)"/>
<rect x="392.4" y="164.2" width="1.1" height="1.1" fill="rgb(15,15,15)"/>
<rect x="394.3" y="156.4" width="1.1" height="1.1" fill="rgb(98,98,98)"/>
<rect x="395.3" y="144.8" width="1.1" height="1.1" fill="rgb(17,17,17)"/>
<rect x="394.9" y="146.6" width="1.1" height="1.1" fill="rgb(89,89,89)"/>
<rect x="395.9" y="159.1" width="1.1" height="1.1" fill="rgb(140,140,140)"/>
<rect x="392.4" y="161.9" width="1.1" height="1.1" fill="rgb(38,38,38)"/>
<rect x="392.6" y="142.0" width="1.1" height="1.1" fill="rgb(67,67,67)"/>
<rect x="392.6" y="140.1" width="1.1" height="1.1" fill="rgb(15,15,15)"/>
<rect x="397.2" y="140.5" width="1.1" height="1.1" fill="rgb(26,26,26)"/>
<rect x="395.4" y="162.9" width="1.1" height="1.1" fill="rgb(86,86,86)"/>
<rect x="395.6" y="166.4" width="1.1" height="1.1" fill="rgb(60,60,60)"/>
<rect x="393.6" y="163.7" width="1.1" height="1.1" fill="rgb(113,113,113)"/>
<rect x="395.6" y="142.7" width="1.1" height="1.1" fill="rgb(62,62,62)"/>
<rect x="393.8" y="167.4" width="1.1" height="1.1" fill="rgb(140,140,140)"/>
<rect x="393.4" y="159.9" width="1.1" height="1.1" fill="rgb(132,132,132)"/>
<rect x="394.7" y="150.1" width="1.1" height="1.1" fill="rgb(100,100,100)"/>
<rect x="396.4" y="156.4" width="1.1" height="1.1" fill="rgb(83,83,83)"/>
<rect x="396.2" y="161.8" width="1.1" height="1.1" fill="rgb(121,121,121)"/>
<rect x="393.8" y="168.4" width="1.1" height="1.1" fill="rgb(81,81,81)"/>
<rect x="392.7" y="144.6" width="1.1" height="1.1" fill="rgb(18,18,18)"/>
<rect x="394.1" y="163.5" width="1.1" height="1.1" fill="rgb(121,121,121)"/>
<rect x="396.8" y="153.9" width="1.1" height="1.1" fill="rgb(42,42,42)"/>
<rect x="395.2" y="166.7" width="1.1" height="1.1" fill="rgb(34,34,34)"/>
<rect x="395.1" y="154.5" width="1.1" height="1.1" fill="rgb(85,85,85)"/>
<rect x="392.6" y="149.3" width="1.1" height="1.1" fill="rgb(112,112,112)"/>
<rect x="393.3" y="164.8" width="1.1" height="1.1" fill="rgb(149,149,149)"/>
<rect x="393.6" y="159.9" width="1.1" height="1.1" fill="rgb(52,52,52)"/>
<rect x="393.6" y="160.8" width="1.1" height="1.1" fill="rgb(31,31,31)"/>
<rect x="396.3" y="142.6" width="1.1" height="1.1" fill="rgb(15,15,15)"/>
<rect x="393.9" y="165.0" width="1.1" height="1.1" fill="rgb(42,42,42)"/>
<rect x="394.7" y="140.5" width="1.1" height="1.1" fill="rgb(15,15,15)"/>
<rect x="395.2" y="144.9" width="1.1" height="1.1" fill="rgb(80,80,80)"/>
<rect x="394.4" y="151.4" width="1.1" height="1.1" fill="rgb(137,137,137)"/>
<rect x="393.8" y="157.6" width="1.1" height="1.1" fill="rgb(15,15,15)"/>
<rect x="396.0" y="159.8" width="1.1" height="1.1" fill="rgb(224,224,224)"/>
<rect x="394.0" y="160.8" width="1.1" height="1.1" fill="rgb(133,133,133)"/>
<rect x="394.7" y="147.5" width="1.1" height="1.1" fill="rgb(136,136,136)"/>
<rect x="393.1" y="161.9" width="1.1" height="1.1" fill="rgb(105,105,105)"/>
<rect x="393.0" y="143.9" width="1.1" height="1.1" fill="rgb(59,59,59)"/>
<rect x="393.3" y="146.9" width="1.1" height="1.1" fill="rgb(15,15,15)"/>
<rect x="392.5" y="164.0" width="1.1" height="1.1" fill="rgb(31,31,31)"/>
<rect x="396.1" y="158.7" width="1.1" height="1.1" fill="rgb(55,55,55)"/>
<rect x="393.2" y="153.7" width="1.1" height="1.1" fill="rgb(101,101,101)"/>
<rect x="392.8" y="168.2" width="1.1" height="1.1" fill="rgb(99,99,99)"/>
<rect x="392.9" y="139.6" width="1.1" height="1.1" fill="rgb(102,102,102)"/>
<rect x="393.8" y="165.2" width="1.1" height="1.1" fill="rgb(109,109,109)"/>
<rect x="393.6" y="151.8" width="1.1" height="1.1" fill="rgb(135,135,135)"/>
<rect x="394.9" y="167.7" width="1.1" height="1.1" fill="rgb(67,67,67)"/>
<rect x="392.8" y="157.1" width="1.1" height="1.1" fill="rgb(89,89,89)"/>
<rect x="392.6" y="157.8" width="1.1" height="1.1" fill="rgb(56,56,56)"/>
<rect x="393.8" y="147.5" width="1.1" height="1.1" fill="rgb(88,88,88)"/>
<rect x="393.0" y="166.4" width="1.1" height="1.1" fill="rgb(72,72,72)"/>
<rect x="396.1" y="144.8" width="1.1" height="1.1" fill="rgb(15,15,15)"/>
<rect x="394.2" y="158.6" width="1.1" height="1.1" fill="rgb(73,73,73)"/>
<rect x="392.5" y="150.3" width="1.1" height="1.1" fill="rgb(72,72,72)"/>
<rect x="394.6" y="149.3" width="1.1" height="1.1" fill="rgb(23,23,23)"/>
<rect x="392.6" y="145.7" width="1.1" height="1.1" fill="rgb(118,118,118)"/>
<rect x="392.3" y="161.2" width="1.1" height="1.1" fill="rgb(43,43,43)"/>
<rect x="393.4" y="161.6" width="1.1" height="1.1" fill="rgb(130,130,130)"/>
<rect x="393.3" y="158.6" width="1.1" height="1.1" fill="rgb(89,89,89)"/>
<rect x="393.3" y="151.5" width="1.1" height="1.1" fill="rgb(103,103,103)"/>
<rect x="392.7" y="154.2" width="1.1" height="1.1" fill="rgb(49,49,49)"/>
<rect x="397.2" y="148.7" width="1.1" height="1.1" fill="rgb(104,104,104)"/>
<rect x="393.4" y="161.8" width="1.1" height="1.1" fill="rgb(83,83,83)"/>
<rect x="394.5" y="166.1" width="1.1" height="1.1" fill="rgb(102,102,102)"/>
<rect x="394.3" y="152.3" width="1.1" height="1.1" fill="rgb(15,15,15)"/>
<rect x="393.6" y="158.1" width="1.1" height="1.1" fill="rgb(120,120,120)"/>
<rect x="394.8" y="155.1" width="1.1" height="1.1" fill="rgb(67,67,67)"/>
<rect x="398.8" y="161.2" width="1.1" height="1.1" fill="rgb(24,24,24)"/>
<rect x="394.6" y="149.0" width="1.1" height="1.1" fill="rgb(157,157,157)"/>
<rect x="394.7" y="166.7" width="1.1" height="1.1" fill="rgb(118,118,118)"/>
<rect x="393.3" y="160.8" width="1.1" height="1.1" fill="rgb(44,44,44)"/>
<rect x="393.7" y="154.3" width="1.1" height="1.1" fill="rgb(88,88,88)"/>
<rect x="393.8" y="155.2" width="1.1" height="1.1" fill="rgb(85,85,85)"/>
<rect x="394.1" y="150.2" width="1.1" height="1.1" fill="rgb(28,28,28)"/>
<rect x="396.0" y="168.3" width="1.1" height="1.1" fill="rgb(20,20,20)"/>
<rect x="394.2" y="147.9" width="1.1" height="1.1" fill="rgb(111,111,111)"/>
<rect x="393.9" y="148.0" width="1.1" height="1.1" fill="rgb(84,84,84)"/>
<rect x="394.8" y="161.8" width="1.1" height="1.1" fill="rgb(16,16,16)"/>
<rect x="392.6" y="159.3" width="1.1" height="1.1" fill="rgb(60,60,60)"/>
<rect x="394.3" y="140.0" width="1.1" height="1.1" fill="rgb(62,62,62)"/>
<rect x="393.1" y="153.6" width="1.1" height="1.1" fill="rgb(15,15,15)"/>
<rect x="393.4" y="150.9" width="1.1" height="1.1" fill="rgb(70,70,70)"/>
<rect x="392.8" y="139.3" width="1.1" height="1.1" fill="rgb(49,49,49)"/>
<rect x="392.6" y="155.7" width="1.1" height="1.1" fill="rgb(85,85,85)"/>
<rect x="392.3" y="167.8" width="1.1" height="1.1" fill="rgb(80,80,80)"/>
<rect x="394.9" y="159.1" width="1.1" height="1.1" fill="rgb(76,76,76)"/>
<rect x="392.6" y="145.2" width="1.1" height="1.1" fill="rgb(108,108,108)"/>
<rect x="393.4" y="162.0" width="1.1" height="1.1" fill="rgb(69,69,69)"/>
<rect x="392.9" y="161.0" width="1.1" height="1.1" fill="rgb(90,90,90)"/>
<rect x="393.8" y="167.4" width="1.1" height="1.1" fill="rgb(125,125,125)"/>
<rect x="394.3" y="166.0" width="1.1" height="1.1" fill="rgb(77,77,77)"/>
<rect x="394.7" y="149.0" width="1.1" height="1.1" fill="rgb(90,90,90)"/>
<rect x="392.8" y="144.6" width="1.1" height="1.1" fill="rgb(130,130,130)"/>
<rect x="392.5" y="139.8" width="1.1" height="1.1" fill="rgb(109,109,109)"/>
<rect x="395.5" y="147.0" width="1.1" height="1.1" fill="rgb(26,26,26)"/>
<rect x="395.0" y="145.0" width="1.1" height="1.1" fill="rgb(15,15,15)"/>
<rect x="394.2" y="165.7" width="1.1" height="1.1" fill="rgb(74,74,74)"/>
<rect x="394.7" y="146.5" width="1.1" height="1.1" fill="rgb(48,48,48)"/>
<rect x="394.7" y="162.9" width="1.1" height="1.1" fill="rgb(106,106,106)"/>
<rect x="395.2" y="168.4" width="1.1" height="1.1" fill="rgb(57,57,57)"/>
<rect x="395.3" y="159.8" width="1.1" height="1.1" fill="rgb(102,102,102)"/>
<rect x="393.5" y="139.0" width="1.1" height="1.1" fill="rgb(64,64,64)"/>
<rect x="393.1" y="155.9" width="1.1" height="1.1" fill="rgb(42,42,42)"/>
<rect x="394.4" y="150.8" width="1.1" height="1.1" fill="rgb(26,26,26)"/>
<rect x="395.5" y="142.3" width="1.1" height="1.1" fill="rgb(69,69,69)"/>
<rect x="395.2" y="158.7" width="1.1" height="1.1" fill="rgb(121,121,121)"/>
<rect x="393.6" y="157.2" width="1.1" height="1.1" fill="rgb(15,15,15)"/>
<rect x="394.3" y="152.7" width="1.1" height="1.1" fill="rgb(53,53,53)"/>
<rect x="393.5" y="143.0" width="1.1" height="1.1" fill="rgb(42,42,42)"/>
<rect x="394.6" y="145.2" width="1.1" height="1.1" fill="rgb(108,108,108)"/>
<rect x="396.3" y="153.7" width="1.1" height="1.1" fill="rgb(15,15,15)"/>
<rect x="392.5" y="160.0" width="1.1" height="1.1" fill="rgb(15,15,15)"/>
<rect x="394.4" y="153.9" width="1.1" height="1.1" fill="rgb(185,185,185)"/>
<rect x="392.4" y="150.8" width="1.1" height="1.1" fill="rgb(143,143,143)"/>
<rect x="395.7" y="152.5" width="1.1" height="1.1" fill="rgb(36,36,36)"/>
<rect x="395.5" y="146.6" width="1.1" height="1.1" fill="rgb(109,109,109)"/>
<rect x="392.3" y="145.8" width="1.1" height="1.1" fill="rgb(15,15,15)"/>
<rect x="396.4" y="151.3" width="1.1" height="1.1" fill="rgb(19,19,19)"/>
<rect x="393.0" y="153.0" width="1.1" height="1.1" fill="rgb(15,15,15)"/>
<rect x="397.5" y="157.9" width="1.1" height="1.1" fill="rgb(54,54,54)"/>
<rect x="395.3" y="158.0" width="1.1" height="1.1" fill="rgb(25,25,25)"/>
<rect x="394.4" y="166.4" width="1.1" height="1.1" fill="rgb(121,121,121)"/>
<rect x="394.4" y="144.4" width="1.1" height="1.1" fill="rgb(98,98,98)"/>
<rect x="393.3" y="142.4" width="1.1" height="1.1" fill="rgb(44,44,44)"/>
<rect x="393.8" y="161.0" width="1.1" height="1.1" fill="rgb(127,127,127)"/>
<rect x="393.4" y="153.9" width="1.1" height="1.1" fill="rgb(15,15,15)"/>
<rect x="394.1" y="158.8" width="1.1" height="1.1" fill="rgb(96,96,96)"/>
<rect x="392.7" y="142.2" width="1.1" height="1.1" fill="rgb(15,15,15)"/>
<rect x="392.4" y="150.8" width="1.1" height="1.1" fill="rgb(23,23,23)"/>
<rect x="392.4" y="155.2" width="1.1" height="1.1" fill="rgb(89,89,89)"/>
<rect x="393.1" y="159.4" width="1.1" height="1.1" fill="rgb(29,29,29)"/>
<rect x="395.2" y="150.9" width="1.1" height="1.1" fill="rgb(150,150,150)"/>
<rect x="392.6" y="148.1" width="1.1" height="1.1" fill="rgb(76,76,76)"/>
<rect x="393.4" y="153.1" width="1.1" height="1.1" fill="rgb(70,70,70)"/>
<rect x="392.5" y="160.1" width="1.1" height="1.1" fill="rgb(52,52,52)"/>
<rect x="394.5" y="146.7" width="1.1" height="1.1" fill="rgb(15,15,15)"/>
<rect x="396.2" y="150.2" width="1.1" height="1.1" fill="rgb(112,112,112)"/>
<rect x="395.1" y="140.0" width="1.1" height="1.1" fill="rgb(64,64,64)"/>
<rect x="394.6" y="144.6" width="1.1" height="1.1" fill="rgb(15,15,15)"/>
<rect x="394.9" y="160.9" width="1.1" height="1.1" fill="rgb(130,130,130)"/>
<rect x="392.4" y="168.2" width="1.1" height="1.1" fill="rgb(101,101,101)"/>
<rect x="392.4" y="145.1" width="1.1" height="1.1" fill="rgb(36,36,36)"/>
<rect x="393.4" y="144.9" width="1.1" height="1.1" fill="rgb(31,31,31)"/>
<rect x="396.6" y="162.8" width="1.1" height="1.1" fill="rgb(86,86,86)"/>
<rect x="393.3" y="155.9" width="1.1" height="1.1" fill="rgb(109,109,109)"/>
<rect x="398.1" y="154.8" width="1.1" height="1.1" fill="rgb(123,123,123)"/>
<rect x="394.1" y="157.0" width="1.1" height="1.1" fill="rgb(81,81,81)"/>
<rect x="395.1" y="163.8" width="1.1" height="1.1" fill="rgb(158,158,158)"/>
<rect x="393.8" y="152.3" width="1.1" height="1.1" fill="rgb(30,30,30)"/>
<rect x="393.6" y="146.6" width="1.1" height="1.1" fill="rgb(93,93,93)"/>
<rect x="393.1" y="139.3" width="1.1" height="1.1" fill="rgb(179,179,179)"/>
<rect x="394.8" y="164.5" width="1.1" height="1.1" fill="rgb(95,95,95)"/>
<rect x="392.7" y="155.6" width="1.1" height="1.1" fill="rgb(148,148,148)"/>
<rect x="393.9" y="149.5" width="1.1" height="1.1" fill="rgb(89,89,89)"/>
<rect x="393.8" y="153.5" width="1.1" height="1.1" fill="rgb(15,15,15)"/>
<rect x="395.2" y="143.5" width="1.1" height="1.1" fill="rgb(50,50,50)"/>
<rect x="392.5" y="147.4" width="1.1" height="1.1" fill="rgb(15,15,15)"/>
<rect x="393.3" y="159.5" width="1.1" height="1.1" fill="rgb(106,106,106)"/>
<rect x="393.8" y="164.6" width="1.1" height="1.1" fill="rgb(89,89,89)"/>
<rect x="393.4" y="161.6" width="1.1" height="1.1" fill="rgb(72,72,72)"/>
<rect x="398.8" y="150.6" width="1.1" height="1.1" fill="rgb(29,29,29)"/>
<rect x="392.7" y="144.7" width="1.1" height="1.1" fill="rgb(122,122,122)"/>
<rect x="397.3" y="159.4" width="1.1" height="1.1" fill="rgb(108,108,108)"/>
<rect x="393.3" y="150.1" width="1.1" height="1.1" fill="rgb(103,103,103)"/>
<rect x="395.4" y="147.7" width="1.1" height="1.1" fill="rgb(18,18,18)"/>
<rect x="395.3" y="152.2" width="1.1" height="1.1" fill="rgb(34,34,34)"/>
<rect x="393.1" y="141.3" width="1.1" height="1.1" fill="rgb(22,22,22)"/>
<rect x="393.7" y="149.6" width="1.1" height="1.1" fill="rgb(61,61,61)"/>
<rect x="394.6" y="156.1" width="1.1" height="1.1" fill="rgb(15,15,15)"/>
<rect x="395.4" y="153.8" width="1.1" height="1.1" fill="rgb(15,15,15)"/>
<rect x="392.4" y="146.8" width="1.1" height="1.1" fill="rgb(91,91,91)"/>
<rect x="393.4" y="163.3" width="1.1" height="1.1" fill="rgb(55,55,55)"/>
<rect x="395.5" y="147.3" width="1.1" height="1.1" fill="rgb(94,94,94)"/>
<rect x="392.6" y="159.6" width="1.1" height="1.1" fill="rgb(36,36,36)"/>
<rect x="394.0" y="145.1" width="1.1" height="1.1" fill="rgb(40,40,40)"/>
<rect x="394.5" y="145.3" width="1.1" height="1.1" fill="rgb(69,69,69)"/>
<rect x="393.2" y="157.1" width="1.1" height="1.1" fill="rgb(157,157,157)"/>
<rect x="396.1" y="157.9" width="1.1" height="1.1" fill="rgb(53,53,53)"/>
<rect x="395.1" y="152.5" width="1.1" height="1.1" fill="rgb(94,94,94)"/>
<rect x="392.9" y="150.7" width="1.1" height="1.1" fill="rgb(65,65,65)"/>
<rect x="398.2" y="150.1" width="1.1" height="1.1" fill="rgb(85,85,85)"/>
<rect x="392.5" y="145.4" width="1.1" height="1.1" fill="rgb(73,73,73)"/>
<rect x="393.5" y="149.4" width="1.1" height="1.1" fill="rgb(119,119,119)"/>
<rect x="393.7" y="161.3" width="1.1" height="1.1" fill="rgb(15,15,15)"/>
<rect x="393.3" y="164.7" width="1.1" height="1.1" fill="rgb(66,66,66)"/>
<rect x="394.8" y="166.9" width="1.1" height="1.1" fill="rgb(112,112,112)"/>
<rect x="392.4" y="152.9" width="1.1" height="1.1" fill="rgb(58,58,58)"/>
<rect x="396.8" y="143.7" width="1.1" height="1.1" fill="rgb(72,72,72)"/>
<rect x="396.3" y="152.4" width="1.1" height="1.1" fill="rgb(15,15,15)"/>
<rect x="393.4" y="155.8" width="1.1" height="1.1" fill="rgb(41,41,41)"/>
<rect x="395.4" y="158.4" width="1.1" height="1.1" fill="rgb(37,37,37)"/>
<rect x="396.4" y="166.2" width="1.1" height="1.1" fill="rgb(101,101,101)"/>
<rect x="395.7" y="157.0" width="1.1" height="1.1" fill="rgb(121,121,121)"/>
<rect x="394.0" y="158.7" width="1.1" height="1.1" fill="rgb(15,15,15)"/>
<rect x="394.4" y="159.6" width="1.1" height="1.1" fill="rgb(17,17,17)"/>
<rect x="395.6" y="163.9" width="1.1" height="1.1" fill="rgb(53,53,53)"/>
<rect x="395.9" y="142.9" width="1.1" height="1.1" fill="rgb(96,96,96)"/>
<rect x="395.9" y="167.9" width="1.1" height="1.1" fill="rgb(144,144,144)"/>
<rect x="393.7" y="154.4" width="1.1" height="1.1" fill="rgb(94,94,94)"/>
<rect x="395.9" y="152.6" width="1.1" height="1.1" fill="rgb(105,105,105)"/>
<rect x="392.5" y="141.5" width="1.1" height="1.1" fill="rgb(80,80,80)"/>
<rect x="392.7" y="146.8" width="1.1" height="1.1" fill="rgb(153,153,153)"/>
<rect x="395.0" y="165.0" width="1.1" height="1.1" fill="rgb(21,21,21)"/>
<rect x="394.4" y="167.9" width="1.1" height="1.1" fill="rgb(132,132,132)"/>
<rect x="393.1" y="142.8" width="1.1" height="1.1" fill="rgb(106,106,106)"/>
<rect x="392.8" y="165.4" width="1.1" height="1.1" fill="rgb(80,80,80)"/>
<rect x="393.0" y="150.2" width="1.1" height="1.1" fill="rgb(91,91,91)"/>
<rect x="395.6" y="166.1" width="1.1" height="1.1" fill="rgb(15,15,15)"/>
<rect x="392.4" y="152.2" width="1.1" height="1.1" fill="rgb(95,95,95)"/>
<rect x="373.0" y="133.5" width="1.1" height="1.1" fill="rgb(147,147,147)"/>
<rect x="389.5" y="119.0" width="1.1" height="1.1" fill="rgb(194,194,194)"/>
<rect x="384.2" y="116.3" width="1.1" height="1.1" fill="rgb(157,157,157)"/>
<rect x="394.2" y="130.3" width="1.1" height="1.1" fill="rgb(175,175,175)"/>
<rect x="379.2" y="118.7" width="1.1" height="1.1" fill="rgb(145,145,145)"/>
<rect x="380.3" y="131.2" width="1.1" height="1.1" fill="rgb(180,180,180)"/>
<rect x="399.5" y="113.9" width="1.1" height="1.1" fill="rgb(181,181,181)"/>
<rect x="370.9" y="120.4" width="1.1" height="1.1" fill="rgb(207,207,207)"/>
<rect x="389.0" y="114.1" width="1.1" height="1.1" fill="rgb(203,203,203)"/>
<rect x="402.6" y="113.7" width="1.1" height="1.1" fill="rgb(118,118,118)"/>
<rect x="386.6" y="115.7" width="1.1" height="1.1" fill="rgb(148,148,148)"/>
<rect x="391.5" y="121.3" width="1.1" height="1.1" fill="rgb(179,179,179)"/>
<rect x="403.0" y="115.4" width="1.1" height="1.1" fill="rgb(177,177,177)"/>
<rect x="369.9" y="122.7" width="1.1" height="1.1" fill="rgb(161,161,161)"/>
<rect x="403.4" y="124.6" width="1.1" height="1.1" fill="rgb(168,168,168)"/>
<rect x="386.6" y="116.0" width="1.1" height="1.1" fill="rgb(207,207,207)"/>
<rect x="389.0" y="134.9" width="1.1" height="1.1" fill="rgb(168,168,168)"/>
<rect x="395.9" y="128.7" width="1.1" height="1.1" fill="rgb(195,195,195)"/>
<rect x="392.7" y="114.6" width="1.1" height="1.1" fill="rgb(167,167,167)"/>
<rect x="382.7" y="129.1" width="1.1" height="1.1" fill="rgb(172,172,172)"/>
<rect x="370.5" y="136.2" width="1.1" height="1.1" fill="rgb(164,164,164)"/>
<rect x="401.3" y="137.9" width="1.1" height="1.1" fill="rgb(140,140,140)"/>
<rect x="382.6" y="137.7" width="1.1" height="1.1" fill="rgb(172,172,172)"/>
<rect x="404.4" y="138.0" width="1.1" height="1.1" fill="rgb(171,171,171)"/>
<rect x="383.0" y="129.9" width="1.1" height="1.1" fill="rgb(166,166,166)"/>
<rect x="381.7" y="113.9" width="1.1" height="1.1" fill="rgb(157,157,157)"/>
<rect x="393.6" y="113.5" width="1.1" height="1.1" fill="rgb(164,164,164)"/>
<rect x="372.2" y="118.9" width="1.1" height="1.1" fill="rgb(165,165,165)"/>
<rect x="373.0" y="131.7" width="1.1" height="1.1" fill="rgb(148,148,148)"/>
<rect x="390.2" y="123.7" width="1.1" height="1.1" fill="rgb(138,138,138)"/>
<rect x="382.5" y="129.6" width="1.1" height="1.1" fill="rgb(162,162,162)"/>
<rect x="396.8" y="122.2" width="1.1" height="1.1" fill="rgb(176,176,176)"/>
<rect x="380.2" y="130.0" width="1.1" height="1.1" fill="rgb(213,213,213)"/>
<rect x="383.8" y="134.5" width="1.1" height="1.1" fill="rgb(140,140,140)"/>
<rect x="373.3" y="114.1" width="1.1" height="1.1" fill="rgb(149,149,149)"/>
<rect x="369.9" y="137.7" width="1.1" height="1.1" fill="rgb(173,173,173)"/>
<rect x="374.6" y="127.6" width="1.1" height="1.1" fill="rgb(138,138,138)"/>
<rect x="400.4" y="134.9" width="1.1" height="1.1" fill="rgb(175,175,175)"/>
<rect x="378.7" y="115.2" width="1.1" height="1.1" fill="rgb(140,140,140)"/>
<rect x="381.8" y="129.6" width="1.1" height="1.1" fill="rgb(181,181,181)"/>
</g></g>
<path d="M367.8,46 L391,48.7 L412.3,60.8 L415.2,84.4 L393.3,117.5 L367.8,120.8" fill="none" stroke="#3a3a3a" stroke-width="1.1" />
<path d="M406.9,168.9 L406.9,135.4 L432.3,93.5 L465.4,93.5 L465.4,168.9" fill="none" stroke="#3a3a3a" stroke-width="1.1" />
<line x1="346.90" y1="150.00" x2="346.90" y2="189.80" stroke="#000" stroke-width="2" />
<path d="M346.9,145.4 L343.3,152 L346.9,150.8 L350.5,152 Z" fill="#000" stroke="#000" stroke-width="0.8" />
<line x1="345.90" y1="188.90" x2="380.00" y2="188.90" stroke="#000" stroke-width="2" />
<path d="M385,188.9 L378.4,185.3 L379.6,188.9 L378.4,192.5 Z" fill="#000" stroke="#000" stroke-width="0.8" />
<text transform="translate(317.98,164.80) scale(1.000,1.096)" font-size="13.85" font-weight="normal" text-anchor="start" fill="#111" stroke="#111" stroke-width="0.32" >red</text>
<text transform="translate(318.84,183.60) scale(1.000,1.231)" font-size="13.23" font-weight="normal" text-anchor="start" fill="#111" stroke="#111" stroke-width="0.28" >WT</text>
<text transform="translate(345.53,209.60) scale(1.000,1.142)" font-size="13.67" font-weight="normal" text-anchor="start" fill="#111" stroke="#111" stroke-width="0.31" >green</text>
<text transform="translate(345.66,229.30) scale(1.000,1.128)" font-size="13.92" font-weight="normal" text-anchor="start" fill="#111" stroke="#111" stroke-width="0.31" >KO</text>
<text transform="translate(-0.50,287.20) scale(1.000,1.104)" font-size="25.42" font-weight="bold" text-anchor="start" fill="#111" stroke="#111" stroke-width="0.18" >B</text>
<text transform="translate(114.80,278.20) scale(1.000,1.099)" font-size="19.45" font-weight="normal" text-anchor="start" fill="#111" stroke="#111" stroke-width="0.32" >Homing WT vs WKO or cDKO B cells</text>
<line x1="97.00" y1="288.90" x2="456.00" y2="288.90" stroke="#707070" stroke-width="2" />
<line x1="455.00" y1="288.00" x2="455.00" y2="470.50" stroke="#707070" stroke-width="2" />
<line x1="97.30" y1="319.30" x2="453.50" y2="319.30" stroke="#111" stroke-width="2.9" stroke-dasharray="2.9 2.2"/>
<line x1="117.97" y1="406.65" x2="117.97" y2="414.60" stroke="#000" stroke-width="2" />
<line x1="112.17" y1="406.65" x2="124.28" y2="406.65" stroke="#000" stroke-width="2.2" />
<line x1="136.38" y1="416.85" x2="136.38" y2="418.70" stroke="#000" stroke-width="2" />
<line x1="130.38" y1="416.85" x2="142.47" y2="416.85" stroke="#000" stroke-width="2.2" />
<rect x="109.17" y="414.60" width="18.50" height="55.10" fill="#9d9d9d" stroke="#000" stroke-width="2"/>
<rect x="127.67" y="418.70" width="17.10" height="51.00" fill="#252525" stroke="#000" stroke-width="2"/>
<line x1="177.72" y1="379.05" x2="177.72" y2="384.60" stroke="#000" stroke-width="2" />
<line x1="171.93" y1="379.05" x2="184.03" y2="379.05" stroke="#000" stroke-width="2.2" />
<line x1="196.12" y1="382.00" x2="196.12" y2="391.50" stroke="#000" stroke-width="2" />
<line x1="190.12" y1="382.00" x2="202.22" y2="382.00" stroke="#000" stroke-width="2.2" />
<rect x="168.93" y="384.60" width="18.50" height="85.10" fill="#9d9d9d" stroke="#000" stroke-width="2"/>
<rect x="187.43" y="391.50" width="17.10" height="78.20" fill="#252525" stroke="#000" stroke-width="2"/>
<line x1="237.47" y1="402.90" x2="237.47" y2="413.40" stroke="#000" stroke-width="2" />
<line x1="231.68" y1="402.90" x2="243.78" y2="402.90" stroke="#000" stroke-width="2.2" />
<line x1="255.88" y1="431.80" x2="255.88" y2="437.20" stroke="#000" stroke-width="2" />
<line x1="249.88" y1="431.80" x2="261.98" y2="431.80" stroke="#000" stroke-width="2.2" />
<rect x="228.68" y="413.40" width="18.50" height="56.30" fill="#9d9d9d" stroke="#000" stroke-width="2"/>
<rect x="247.18" y="437.20" width="17.10" height="32.50" fill="#252525" stroke="#000" stroke-width="2"/>
<line x1="297.23" y1="397.60" x2="297.23" y2="404.20" stroke="#000" stroke-width="2" />
<line x1="291.43" y1="397.60" x2="303.52" y2="397.60" stroke="#000" stroke-width="2.2" />
<line x1="315.62" y1="411.15" x2="315.62" y2="415.50" stroke="#000" stroke-width="2" />
<line x1="309.62" y1="411.15" x2="321.73" y2="411.15" stroke="#000" stroke-width="2.2" />
<rect x="288.43" y="404.20" width="18.50" height="65.50" fill="#9d9d9d" stroke="#000" stroke-width="2"/>
<rect x="306.93" y="415.50" width="17.10" height="54.20" fill="#252525" stroke="#000" stroke-width="2"/>
<line x1="356.98" y1="325.65" x2="356.98" y2="341.40" stroke="#000" stroke-width="2" />
<line x1="351.18" y1="325.65" x2="363.27" y2="325.65" stroke="#000" stroke-width="2.2" />
<line x1="375.38" y1="337.50" x2="375.38" y2="349.10" stroke="#000" stroke-width="2" />
<line x1="369.38" y1="337.50" x2="381.48" y2="337.50" stroke="#000" stroke-width="2.2" />
<rect x="348.18" y="341.40" width="18.50" height="128.30" fill="#9d9d9d" stroke="#000" stroke-width="2"/>
<rect x="366.68" y="349.10" width="17.10" height="120.60" fill="#252525" stroke="#000" stroke-width="2"/>
<line x1="416.73" y1="374.60" x2="416.73" y2="383.40" stroke="#000" stroke-width="2" />
<line x1="410.93" y1="374.60" x2="423.02" y2="374.60" stroke="#000" stroke-width="2.2" />
<line x1="435.12" y1="369.95" x2="435.12" y2="380.00" stroke="#000" stroke-width="2" />
<line x1="429.12" y1="369.95" x2="441.23" y2="369.95" stroke="#000" stroke-width="2.2" />
<rect x="407.93" y="383.40" width="18.50" height="86.30" fill="#9d9d9d" stroke="#000" stroke-width="2"/>
<rect x="426.43" y="380.00" width="17.10" height="89.70" fill="#252525" stroke="#000" stroke-width="2"/>
<line x1="96.90" y1="288.30" x2="96.90" y2="470.60" stroke="#2e2e2e" stroke-width="1.7" />
<line x1="96.00" y1="469.70" x2="456.00" y2="469.70" stroke="#2e2e2e" stroke-width="2" />
<line x1="94.00" y1="469.70" x2="97.00" y2="469.70" stroke="#555" stroke-width="1.0" />
<line x1="94.00" y1="439.62" x2="97.00" y2="439.62" stroke="#555" stroke-width="1.0" />
<line x1="94.00" y1="409.54" x2="97.00" y2="409.54" stroke="#555" stroke-width="1.0" />
<line x1="94.00" y1="379.46" x2="97.00" y2="379.46" stroke="#555" stroke-width="1.0" />
<line x1="94.00" y1="349.38" x2="97.00" y2="349.38" stroke="#555" stroke-width="1.0" />
<line x1="94.00" y1="319.30" x2="97.00" y2="319.30" stroke="#555" stroke-width="1.0" />
<line x1="94.00" y1="289.22" x2="97.00" y2="289.22" stroke="#555" stroke-width="1.0" />
<line x1="86.15" y1="315.70" x2="86.15" y2="326.80" stroke="#111" stroke-width="1.6" />
<path d="M86.45,315.80 L82.85,318.60" fill="none" stroke="#111" stroke-width="1.5" stroke-linecap="round"/>
<text transform="translate(70.29,356.84) scale(1.000,1.037)" font-size="15.52" font-weight="normal" text-anchor="start" fill="#111" stroke="#111" stroke-width="0.34" >0,8</text>
<text transform="translate(70.29,387.54) scale(1.000,1.028)" font-size="15.53" font-weight="normal" text-anchor="start" fill="#111" stroke="#111" stroke-width="0.34" >0,6</text>
<text transform="translate(70.41,417.54) scale(1.000,1.055)" font-size="15.13" font-weight="normal" text-anchor="start" fill="#111" stroke="#111" stroke-width="0.33" >0,4</text>
<text transform="translate(70.39,447.54) scale(1.000,1.028)" font-size="15.53" font-weight="normal" text-anchor="start" fill="#111" stroke="#111" stroke-width="0.34" >0,2</text>
<text transform="translate(80.95,477.64) scale(1.000,0.937)" font-size="16.74" font-weight="normal" text-anchor="start" fill="#111" stroke="#111" stroke-width="0.35" >0</text>
<text transform="translate(65.70,441.72) rotate(-90) scale(1.000,1.084)" font-size="14.89" font-weight="normal" text-anchor="start" fill="#111" stroke="#111" stroke-width="0.32" >Migration Index</text>
<rect x="112.90" y="294.80" width="13.20" height="13.30" fill="#c2c2c2" stroke="#000" stroke-width="1.7"/>
<text transform="translate(130.93,308.30) scale(1.000,1.077)" font-size="14.98" font-weight="normal" text-anchor="start" fill="#111" stroke="#111" stroke-width="0.32" >WKO</text>
<rect x="186.30" y="294.90" width="13.00" height="13.40" fill="#252525" stroke="#000" stroke-width="1.7"/>
<text transform="translate(204.47,308.60) scale(1.000,1.076)" font-size="14.86" font-weight="normal" text-anchor="start" fill="#111" stroke="#111" stroke-width="0.33" >cDKO</text>
<text transform="translate(114.57,487.90) scale(1.000,1.118)" font-size="13.91" font-weight="normal" text-anchor="start" fill="#111" stroke="#111" stroke-width="0.31" >SPL</text>
<text transform="translate(174.53,487.90) scale(1.000,1.091)" font-size="14.26" font-weight="normal" text-anchor="start" fill="#111" stroke="#111" stroke-width="0.32" >PLN</text>
<text transform="translate(238.11,487.90) scale(1.000,1.173)" font-size="13.26" font-weight="normal" text-anchor="start" fill="#111" stroke="#111" stroke-width="0.30" >PP</text>
<text transform="translate(292.63,487.90) scale(1.000,1.094)" font-size="14.22" font-weight="normal" text-anchor="start" fill="#111" stroke="#111" stroke-width="0.32" >MLN</text>
<text transform="translate(354.93,487.90) scale(1.000,1.088)" font-size="14.30" font-weight="normal" text-anchor="start" fill="#111" stroke="#111" stroke-width="0.32" >BM</text>
<text transform="translate(413.13,487.90) scale(1.000,1.094)" font-size="14.22" font-weight="normal" text-anchor="start" fill="#111" stroke="#111" stroke-width="0.32" >BLO</text>
<text transform="translate(252.40,422.70) scale(1.000,1.060)" font-size="20.70" font-weight="normal" text-anchor="start" fill="#111" stroke="#111" stroke-width="0.33" >*</text>
<path d="M463.8,318.5 L480.8,308 L480.8,329 Z" fill="none" stroke="#000" stroke-width="2.5" />
<text transform="translate(488.24,323.00) scale(1.000,1.080)" font-size="14.40" font-weight="normal" text-anchor="start" fill="#111" stroke="#111" stroke-width="0.32" >WT</text>
<text transform="translate(0.13,552.00) scale(1.000,1.135)" font-size="26.00" font-weight="bold" text-anchor="start" fill="#111" stroke="#111" stroke-width="0.18" >C</text>
<text transform="translate(151.00,548.40) scale(1.000,1.112)" font-size="19.48" font-weight="normal" text-anchor="start" fill="#111" stroke="#111" stroke-width="0.31" >Homing WKO vs cDKO B cells</text>
<line x1="97.50" y1="558.80" x2="454.00" y2="558.80" stroke="#707070" stroke-width="1.8" />
<line x1="453.50" y1="558.00" x2="453.50" y2="738.00" stroke="#707070" stroke-width="2" />
<line x1="100.00" y1="648.00" x2="451.00" y2="648.00" stroke="#111" stroke-width="2.9" stroke-dasharray="2.9 2.23"/>
<line x1="127.40" y1="613.00" x2="127.40" y2="625.40" stroke="#000" stroke-width="2" />
<line x1="121.20" y1="613.00" x2="133.60" y2="613.00" stroke="#000" stroke-width="2.1" />
<rect x="115.00" y="624.40" width="26.00" height="112.80" fill="#000" stroke="none" stroke-width="0"/>
<line x1="186.20" y1="601.50" x2="186.20" y2="633.10" stroke="#000" stroke-width="2" />
<line x1="180.00" y1="601.50" x2="192.40" y2="601.50" stroke="#000" stroke-width="2.1" />
<rect x="174.20" y="632.10" width="26.00" height="105.10" fill="#000" stroke="none" stroke-width="0"/>
<line x1="245.00" y1="657.20" x2="245.00" y2="671.60" stroke="#000" stroke-width="2" />
<line x1="238.80" y1="657.20" x2="251.20" y2="657.20" stroke="#000" stroke-width="2.1" />
<rect x="233.40" y="670.60" width="26.00" height="66.60" fill="#000" stroke="none" stroke-width="0"/>
<line x1="304.40" y1="630.20" x2="304.40" y2="642.10" stroke="#000" stroke-width="2" />
<line x1="298.20" y1="630.20" x2="310.60" y2="630.20" stroke="#000" stroke-width="2.1" />
<rect x="292.60" y="641.10" width="26.00" height="96.10" fill="#000" stroke="none" stroke-width="0"/>
<line x1="363.90" y1="614.80" x2="363.90" y2="623.80" stroke="#000" stroke-width="2" />
<line x1="357.70" y1="614.80" x2="370.10" y2="614.80" stroke="#000" stroke-width="2.1" />
<rect x="351.80" y="622.80" width="26.00" height="114.40" fill="#000" stroke="none" stroke-width="0"/>
<line x1="423.30" y1="583.60" x2="423.30" y2="605.00" stroke="#000" stroke-width="2" />
<line x1="417.10" y1="583.60" x2="429.50" y2="583.60" stroke="#000" stroke-width="2.1" />
<rect x="411.00" y="604.00" width="26.00" height="133.20" fill="#000" stroke="none" stroke-width="0"/>
<line x1="115.00" y1="648.0" x2="141.00" y2="648.0" stroke="#3a3a3a" stroke-width="2.9" stroke-dasharray="2.9 2.23" stroke-dashoffset="4.74"/>
<line x1="174.20" y1="648.0" x2="200.20" y2="648.0" stroke="#3a3a3a" stroke-width="2.9" stroke-dasharray="2.9 2.23" stroke-dashoffset="2.38"/>
<line x1="292.60" y1="648.0" x2="318.60" y2="648.0" stroke="#3a3a3a" stroke-width="2.9" stroke-dasharray="2.9 2.23" stroke-dashoffset="2.79"/>
<line x1="351.80" y1="648.0" x2="377.80" y2="648.0" stroke="#3a3a3a" stroke-width="2.9" stroke-dasharray="2.9 2.23" stroke-dashoffset="0.43"/>
<line x1="411.00" y1="648.0" x2="437.00" y2="648.0" stroke="#3a3a3a" stroke-width="2.9" stroke-dasharray="2.9 2.23" stroke-dashoffset="3.20"/>
<line x1="98.00" y1="558.50" x2="98.00" y2="738.10" stroke="#2e2e2e" stroke-width="1.7" />
<line x1="96.70" y1="737.20" x2="454.00" y2="737.20" stroke="#2e2e2e" stroke-width="2" />
<line x1="94.50" y1="737.20" x2="97.70" y2="737.20" stroke="#555" stroke-width="1.0" />
<line x1="94.50" y1="719.36" x2="97.70" y2="719.36" stroke="#555" stroke-width="1.0" />
<line x1="94.50" y1="701.52" x2="97.70" y2="701.52" stroke="#555" stroke-width="1.0" />
<line x1="94.50" y1="683.68" x2="97.70" y2="683.68" stroke="#555" stroke-width="1.0" />
<line x1="94.50" y1="665.84" x2="97.70" y2="665.84" stroke="#555" stroke-width="1.0" />
<line x1="94.50" y1="648.00" x2="97.70" y2="648.00" stroke="#555" stroke-width="1.0" />
<line x1="94.50" y1="630.16" x2="97.70" y2="630.16" stroke="#555" stroke-width="1.0" />
<line x1="94.50" y1="612.32" x2="97.70" y2="612.32" stroke="#555" stroke-width="1.0" />
<line x1="94.50" y1="594.48" x2="97.70" y2="594.48" stroke="#555" stroke-width="1.0" />
<line x1="94.50" y1="576.64" x2="97.70" y2="576.64" stroke="#555" stroke-width="1.0" />
<line x1="156.90" y1="737.20" x2="156.90" y2="739.40" stroke="#777" stroke-width="0.9" />
<line x1="216.10" y1="737.20" x2="216.10" y2="739.40" stroke="#777" stroke-width="0.9" />
<line x1="275.30" y1="737.20" x2="275.30" y2="739.40" stroke="#777" stroke-width="0.9" />
<line x1="334.50" y1="737.20" x2="334.50" y2="739.40" stroke="#777" stroke-width="0.9" />
<line x1="393.70" y1="737.20" x2="393.70" y2="739.40" stroke="#777" stroke-width="0.9" />
<rect x="94.30" y="646.60" width="2.70" height="2.80" fill="#111" stroke="none" stroke-width="0"/>
<text transform="translate(81.61,583.40) scale(1.000,1.110)" font-size="13.90" font-weight="normal" text-anchor="start" fill="#111" stroke="#111" stroke-width="0.32" >,8</text>
<line x1="77.65" y1="573.00" x2="77.65" y2="583.30" stroke="#111" stroke-width="1.6" />
<path d="M77.95,573.10 L74.35,575.90" fill="none" stroke="#111" stroke-width="1.5" stroke-linecap="round"/>
<text transform="translate(80.41,617.10) scale(1.000,1.110)" font-size="13.90" font-weight="normal" text-anchor="start" fill="#111" stroke="#111" stroke-width="0.32" >,4</text>
<line x1="76.95" y1="606.70" x2="76.95" y2="617.00" stroke="#111" stroke-width="1.6" />
<path d="M77.25,606.80 L73.65,609.60" fill="none" stroke="#111" stroke-width="1.5" stroke-linecap="round"/>
<line x1="87.55" y1="643.60" x2="87.55" y2="654.60" stroke="#111" stroke-width="1.6" />
<path d="M87.85,643.70 L84.25,646.50" fill="none" stroke="#111" stroke-width="1.5" stroke-linecap="round"/>
<text transform="translate(71.82,689.44) scale(1.000,1.075)" font-size="14.84" font-weight="normal" text-anchor="start" fill="#111" stroke="#111" stroke-width="0.33" >0,6</text>
<text transform="translate(71.51,723.34) scale(1.000,1.058)" font-size="15.22" font-weight="normal" text-anchor="start" fill="#111" stroke="#111" stroke-width="0.33" >0,2</text>
<text transform="translate(82.01,748.54) scale(1.000,1.069)" font-size="15.06" font-weight="normal" text-anchor="start" fill="#111" stroke="#111" stroke-width="0.33" >0</text>
<text transform="translate(63.10,706.02) rotate(-90) scale(1.000,1.073)" font-size="14.92" font-weight="normal" text-anchor="start" fill="#111" stroke="#111" stroke-width="0.33" >Migration Index</text>
<rect x="112.80" y="564.70" width="14.10" height="14.00" fill="#1c1c1c" stroke="#000" stroke-width="1.7"/>
<text transform="translate(131.77,579.20) scale(1.000,1.080)" font-size="14.94" font-weight="normal" text-anchor="start" fill="#111" stroke="#111" stroke-width="0.32" >cDKO</text>
<text transform="translate(114.97,755.10) scale(1.000,1.160)" font-size="13.91" font-weight="normal" text-anchor="start" fill="#111" stroke="#111" stroke-width="0.30" >SPL</text>
<text transform="translate(174.25,755.10) scale(1.000,1.154)" font-size="13.98" font-weight="normal" text-anchor="start" fill="#111" stroke="#111" stroke-width="0.30" >PLN</text>
<text transform="translate(237.22,755.10) scale(1.000,1.118)" font-size="14.43" font-weight="normal" text-anchor="start" fill="#111" stroke="#111" stroke-width="0.31" >PP</text>
<text transform="translate(292.63,755.10) scale(1.000,1.134)" font-size="14.22" font-weight="normal" text-anchor="start" fill="#111" stroke="#111" stroke-width="0.31" >MLN</text>
<text transform="translate(354.18,755.10) scale(1.000,1.089)" font-size="14.82" font-weight="normal" text-anchor="start" fill="#111" stroke="#111" stroke-width="0.32" >BM</text>
<text transform="translate(413.13,755.10) scale(1.000,1.131)" font-size="14.27" font-weight="normal" text-anchor="start" fill="#111" stroke="#111" stroke-width="0.31" >BLO</text>
<path d="M461.3,647.9 L478.3,637.4 L478.3,658.4 Z" fill="none" stroke="#000" stroke-width="2.5" />
<text transform="translate(485.13,652.20) scale(1.000,1.071)" font-size="14.79" font-weight="normal" text-anchor="start" fill="#111" stroke="#111" stroke-width="0.33" >WKO</text>
</svg></body></html>
